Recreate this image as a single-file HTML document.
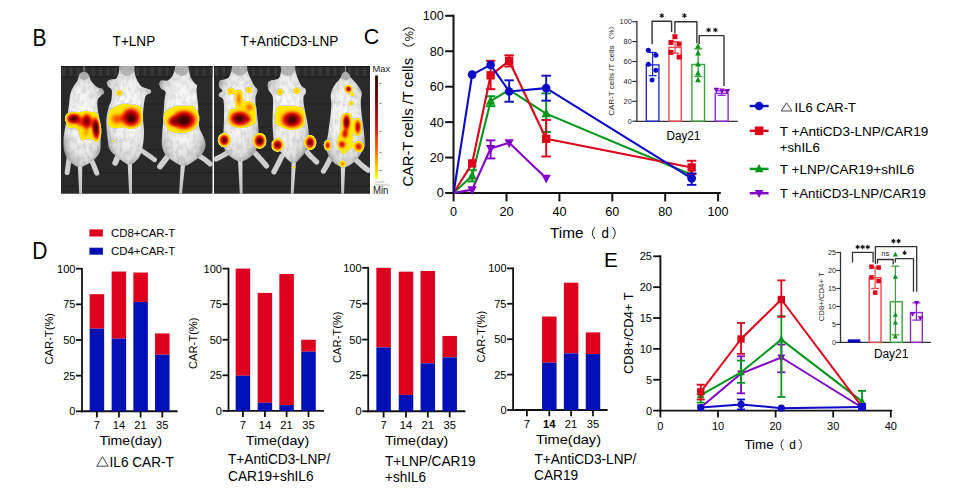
<!DOCTYPE html>
<html><head><meta charset="utf-8"><style>
html,body{margin:0;padding:0;background:#fff;}
svg{display:block;font-family:"Liberation Sans", sans-serif;}
</style></head><body>
<svg width="960" height="494" viewBox="0 0 960 494">
<rect width="960" height="494" fill="#fff"/>
<text x="32.50" y="45.80" font-size="23.5" textLength="14.00" lengthAdjust="spacingAndGlyphs" >B</text>
<text x="363.80" y="43.60" font-size="22.5" textLength="15.50" lengthAdjust="spacingAndGlyphs" >C</text>
<text x="32.30" y="259.00" font-size="23.5" textLength="15.20" lengthAdjust="spacingAndGlyphs" >D</text>
<text x="604.00" y="266.60" font-size="20.5" textLength="13.80" lengthAdjust="spacingAndGlyphs" >E</text>
<text x="112.60" y="45.60" font-size="14.3" textLength="42.60" lengthAdjust="spacingAndGlyphs" >T+LNP</text>
<text x="240.60" y="45.60" font-size="14.3" textLength="97.80" lengthAdjust="spacingAndGlyphs" >T+AntiCD3-LNP</text>
<line x1="453.50" y1="14.70" x2="453.50" y2="194.00" stroke="#111" stroke-width="2" />
<line x1="452.50" y1="193.00" x2="720.80" y2="193.00" stroke="#111" stroke-width="2" />
<line x1="445.20" y1="193.00" x2="453.50" y2="193.00" stroke="#111" stroke-width="2" />
<text x="443.80" y="197.40" font-size="12.6" text-anchor="end" >0</text>
<line x1="445.20" y1="157.56" x2="453.50" y2="157.56" stroke="#111" stroke-width="2" />
<text x="443.80" y="161.96" font-size="12.6" text-anchor="end" >20</text>
<line x1="445.20" y1="122.12" x2="453.50" y2="122.12" stroke="#111" stroke-width="2" />
<text x="443.80" y="126.52" font-size="12.6" text-anchor="end" >40</text>
<line x1="445.20" y1="86.68" x2="453.50" y2="86.68" stroke="#111" stroke-width="2" />
<text x="443.80" y="91.08" font-size="12.6" text-anchor="end" >60</text>
<line x1="445.20" y1="51.24" x2="453.50" y2="51.24" stroke="#111" stroke-width="2" />
<text x="443.80" y="55.64" font-size="12.6" text-anchor="end" >80</text>
<line x1="445.20" y1="15.80" x2="453.50" y2="15.80" stroke="#111" stroke-width="2" />
<text x="443.80" y="20.20" font-size="12.6" text-anchor="end" >100</text>
<line x1="453.60" y1="193.00" x2="453.60" y2="201.40" stroke="#111" stroke-width="2" />
<text x="453.60" y="215.50" font-size="12.6" text-anchor="middle" >0</text>
<line x1="506.50" y1="193.00" x2="506.50" y2="201.40" stroke="#111" stroke-width="2" />
<text x="506.50" y="215.50" font-size="12.6" text-anchor="middle" >20</text>
<line x1="559.40" y1="193.00" x2="559.40" y2="201.40" stroke="#111" stroke-width="2" />
<text x="559.40" y="215.50" font-size="12.6" text-anchor="middle" >40</text>
<line x1="612.30" y1="193.00" x2="612.30" y2="201.40" stroke="#111" stroke-width="2" />
<text x="612.30" y="215.50" font-size="12.6" text-anchor="middle" >60</text>
<line x1="665.20" y1="193.00" x2="665.20" y2="201.40" stroke="#111" stroke-width="2" />
<text x="665.20" y="215.50" font-size="12.6" text-anchor="middle" >80</text>
<line x1="718.10" y1="193.00" x2="718.10" y2="201.40" stroke="#111" stroke-width="2" />
<text x="718.10" y="215.50" font-size="12.6" text-anchor="middle" >100</text>
<text x="550.00" y="237.80" font-size="14.5" textLength="33.50" lengthAdjust="spacingAndGlyphs" >Time</text>
<text x="601.40" y="237.80" font-size="14.5" textLength="7.40" lengthAdjust="spacingAndGlyphs" >d</text>
<path d="M595.0,227.2 Q589.6,233.1 595.0,239.0 M612.6,227.2 Q618.0,233.1 612.6,239.0" fill="none" stroke="#222" stroke-width="1.0"/>
<g transform="translate(413.2,186.6) rotate(-90)">
<text x="0.00" y="0.00" font-size="15" textLength="128.60" lengthAdjust="spacingAndGlyphs" >CAR-T cells /T cells</text>
<path d="M143.2,-10.2 Q137.4,-4.4 143.2,1.4 M156.0,-10.2 Q161.8,-4.4 156.0,1.4" fill="none" stroke="#222" stroke-width="1.05"/>
<text x="150.40" y="0.20" font-size="11.5" text-anchor="middle" >%</text>
</g>
<polyline points="453.60,193.00 472.12,189.63 490.63,148.52 509.15,142.85 546.18,178.29" fill="none" stroke="#8200c8" stroke-width="2.1" stroke-linejoin="round" />
<line x1="490.63" y1="140.37" x2="490.63" y2="158.45" stroke="#8200c8" stroke-width="1.9" />
<line x1="485.88" y1="140.37" x2="495.38" y2="140.37" stroke="#8200c8" stroke-width="1.9" />
<line x1="485.88" y1="158.45" x2="495.38" y2="158.45" stroke="#8200c8" stroke-width="1.9" />
<polygon points="472.12,194.88 476.72,186.14 467.51,186.14" fill="#8200c8" />
<polygon points="490.63,153.77 495.23,145.03 486.03,145.03" fill="#8200c8" />
<polygon points="509.15,148.10 513.75,139.36 504.55,139.36" fill="#8200c8" />
<polygon points="546.18,183.54 550.78,174.80 541.58,174.80" fill="#8200c8" />
<polyline points="453.60,193.00 472.12,175.81 490.63,101.21 509.15,89.87 546.18,113.61 691.65,174.75" fill="none" stroke="#00961a" stroke-width="2.1" stroke-linejoin="round" />
<line x1="472.12" y1="170.14" x2="472.12" y2="181.48" stroke="#00961a" stroke-width="1.9" />
<line x1="467.37" y1="170.14" x2="476.87" y2="170.14" stroke="#00961a" stroke-width="1.9" />
<line x1="467.37" y1="181.48" x2="476.87" y2="181.48" stroke="#00961a" stroke-width="1.9" />
<line x1="490.63" y1="96.25" x2="490.63" y2="106.17" stroke="#00961a" stroke-width="1.9" />
<line x1="485.88" y1="96.25" x2="495.38" y2="96.25" stroke="#00961a" stroke-width="1.9" />
<line x1="485.88" y1="106.17" x2="495.38" y2="106.17" stroke="#00961a" stroke-width="1.9" />
<line x1="546.18" y1="93.41" x2="546.18" y2="132.04" stroke="#00961a" stroke-width="1.9" />
<line x1="541.43" y1="93.41" x2="550.93" y2="93.41" stroke="#00961a" stroke-width="1.9" />
<line x1="541.43" y1="132.04" x2="550.93" y2="132.04" stroke="#00961a" stroke-width="1.9" />
<polygon points="472.12,170.45 476.81,179.38 467.42,179.38" fill="#00961a" />
<polygon points="490.63,95.85 495.33,104.78 485.93,104.78" fill="#00961a" />
<polygon points="509.15,84.51 513.85,93.44 504.45,93.44" fill="#00961a" />
<polygon points="546.18,108.26 550.88,117.19 541.48,117.19" fill="#00961a" />
<polygon points="691.65,169.39 696.35,178.32 686.95,178.32" fill="#00961a" />
<polyline points="453.60,193.00 472.12,163.41 490.63,75.34 509.15,60.81 546.18,138.78 691.65,167.48" fill="none" stroke="#de0019" stroke-width="2.1" stroke-linejoin="round" />
<line x1="490.63" y1="60.81" x2="490.63" y2="89.16" stroke="#de0019" stroke-width="1.9" />
<line x1="485.88" y1="60.81" x2="495.38" y2="60.81" stroke="#de0019" stroke-width="1.9" />
<line x1="485.88" y1="89.16" x2="495.38" y2="89.16" stroke="#de0019" stroke-width="1.9" />
<line x1="509.15" y1="55.32" x2="509.15" y2="66.48" stroke="#de0019" stroke-width="1.9" />
<line x1="504.40" y1="55.32" x2="513.89" y2="55.32" stroke="#de0019" stroke-width="1.9" />
<line x1="504.40" y1="66.48" x2="513.89" y2="66.48" stroke="#de0019" stroke-width="1.9" />
<line x1="546.18" y1="119.99" x2="546.18" y2="156.50" stroke="#de0019" stroke-width="1.9" />
<line x1="541.43" y1="119.99" x2="550.93" y2="119.99" stroke="#de0019" stroke-width="1.9" />
<line x1="541.43" y1="156.50" x2="550.93" y2="156.50" stroke="#de0019" stroke-width="1.9" />
<line x1="691.65" y1="160.75" x2="691.65" y2="174.22" stroke="#de0019" stroke-width="1.9" />
<line x1="686.90" y1="160.75" x2="696.40" y2="160.75" stroke="#de0019" stroke-width="1.9" />
<line x1="686.90" y1="174.22" x2="696.40" y2="174.22" stroke="#de0019" stroke-width="1.9" />
<rect x="467.97" y="159.26" width="8.30" height="8.30" fill="#de0019" />
<rect x="486.48" y="71.19" width="8.30" height="8.30" fill="#de0019" />
<rect x="505.00" y="56.66" width="8.30" height="8.30" fill="#de0019" />
<rect x="542.03" y="134.63" width="8.30" height="8.30" fill="#de0019" />
<rect x="687.50" y="163.33" width="8.30" height="8.30" fill="#de0019" />
<polyline points="453.60,193.00 472.12,74.63 490.63,64.88 509.15,91.46 546.18,88.10 691.65,178.47" fill="none" stroke="#0a0ac8" stroke-width="2.1" stroke-linejoin="round" />
<line x1="509.15" y1="80.30" x2="509.15" y2="101.74" stroke="#0a0ac8" stroke-width="1.9" />
<line x1="504.40" y1="80.30" x2="513.89" y2="80.30" stroke="#0a0ac8" stroke-width="1.9" />
<line x1="504.40" y1="101.74" x2="513.89" y2="101.74" stroke="#0a0ac8" stroke-width="1.9" />
<line x1="546.18" y1="75.69" x2="546.18" y2="100.68" stroke="#0a0ac8" stroke-width="1.9" />
<line x1="541.43" y1="75.69" x2="550.93" y2="75.69" stroke="#0a0ac8" stroke-width="1.9" />
<line x1="541.43" y1="100.68" x2="550.93" y2="100.68" stroke="#0a0ac8" stroke-width="1.9" />
<line x1="691.65" y1="173.51" x2="691.65" y2="184.85" stroke="#0a0ac8" stroke-width="1.9" />
<line x1="686.90" y1="173.51" x2="696.40" y2="173.51" stroke="#0a0ac8" stroke-width="1.9" />
<line x1="686.90" y1="184.85" x2="696.40" y2="184.85" stroke="#0a0ac8" stroke-width="1.9" />
<circle cx="472.12" cy="74.63" r="4.30" fill="#0a0ac8"/>
<circle cx="490.63" cy="64.88" r="4.30" fill="#0a0ac8"/>
<circle cx="509.15" cy="91.46" r="4.30" fill="#0a0ac8"/>
<circle cx="546.18" cy="88.10" r="4.30" fill="#0a0ac8"/>
<circle cx="691.65" cy="178.47" r="4.30" fill="#0a0ac8"/>
<line x1="636.90" y1="21.00" x2="636.90" y2="121.90" stroke="#333" stroke-width="1.3" />
<line x1="636.30" y1="121.30" x2="737.80" y2="121.30" stroke="#333" stroke-width="1.3" />
<line x1="632.30" y1="121.20" x2="636.90" y2="121.20" stroke="#333" stroke-width="1.2" />
<text x="631.80" y="123.70" font-size="7.0" text-anchor="end" textLength="4.00" lengthAdjust="spacingAndGlyphs" fill="#222" >0</text>
<line x1="632.30" y1="101.30" x2="636.90" y2="101.30" stroke="#333" stroke-width="1.2" />
<text x="631.80" y="103.80" font-size="7.0" text-anchor="end" textLength="8.20" lengthAdjust="spacingAndGlyphs" fill="#222" >20</text>
<line x1="632.30" y1="81.40" x2="636.90" y2="81.40" stroke="#333" stroke-width="1.2" />
<text x="631.80" y="83.90" font-size="7.0" text-anchor="end" textLength="8.20" lengthAdjust="spacingAndGlyphs" fill="#222" >40</text>
<line x1="632.30" y1="61.50" x2="636.90" y2="61.50" stroke="#333" stroke-width="1.2" />
<text x="631.80" y="64.00" font-size="7.0" text-anchor="end" textLength="8.20" lengthAdjust="spacingAndGlyphs" fill="#222" >60</text>
<line x1="632.30" y1="41.60" x2="636.90" y2="41.60" stroke="#333" stroke-width="1.2" />
<text x="631.80" y="44.10" font-size="7.0" text-anchor="end" textLength="8.20" lengthAdjust="spacingAndGlyphs" fill="#222" >80</text>
<line x1="632.30" y1="21.70" x2="636.90" y2="21.70" stroke="#333" stroke-width="1.2" />
<text x="631.80" y="24.20" font-size="7.0" text-anchor="end" textLength="12.20" lengthAdjust="spacingAndGlyphs" fill="#222" >100</text>
<rect x="646.30" y="64.88" width="12.60" height="56.32" fill="none" stroke="#2233cc" stroke-width="1.4"/>
<line x1="652.60" y1="52.45" x2="652.60" y2="75.63" stroke="#2233cc" stroke-width="1.3" />
<line x1="648.60" y1="52.45" x2="656.60" y2="52.45" stroke="#2233cc" stroke-width="1.3" />
<line x1="648.60" y1="75.63" x2="656.60" y2="75.63" stroke="#2233cc" stroke-width="1.3" />
<rect x="668.90" y="47.37" width="12.30" height="73.83" fill="none" stroke="#f0484a" stroke-width="1.4"/>
<line x1="675.05" y1="41.60" x2="675.05" y2="53.14" stroke="#f0484a" stroke-width="1.3" />
<line x1="671.05" y1="41.60" x2="679.05" y2="41.60" stroke="#f0484a" stroke-width="1.3" />
<line x1="671.05" y1="53.14" x2="679.05" y2="53.14" stroke="#f0484a" stroke-width="1.3" />
<rect x="691.90" y="64.49" width="12.60" height="56.71" fill="none" stroke="#3ca03c" stroke-width="1.4"/>
<line x1="698.20" y1="48.86" x2="698.20" y2="76.43" stroke="#3ca03c" stroke-width="1.3" />
<line x1="694.20" y1="48.86" x2="702.20" y2="48.86" stroke="#3ca03c" stroke-width="1.3" />
<line x1="694.20" y1="76.43" x2="702.20" y2="76.43" stroke="#3ca03c" stroke-width="1.3" />
<rect x="715.30" y="93.34" width="12.80" height="27.86" fill="none" stroke="#8c2ad0" stroke-width="1.4"/>
<line x1="721.70" y1="90.85" x2="721.70" y2="95.33" stroke="#8c2ad0" stroke-width="1.3" />
<line x1="717.70" y1="90.85" x2="725.70" y2="90.85" stroke="#8c2ad0" stroke-width="1.3" />
<line x1="717.70" y1="95.33" x2="725.70" y2="95.33" stroke="#8c2ad0" stroke-width="1.3" />
<circle cx="648.30" cy="50.20" r="2.50" fill="#0a0ac8"/>
<circle cx="655.90" cy="55.30" r="2.50" fill="#0a0ac8"/>
<circle cx="648.30" cy="64.30" r="2.50" fill="#0a0ac8"/>
<circle cx="655.90" cy="70.20" r="2.50" fill="#0a0ac8"/>
<circle cx="652.10" cy="80.00" r="2.50" fill="#0a0ac8"/>
<rect x="672.40" y="34.20" width="5.00" height="5.00" fill="#de0019" />
<rect x="668.50" y="39.90" width="5.00" height="5.00" fill="#de0019" />
<rect x="676.60" y="41.50" width="5.00" height="5.00" fill="#de0019" />
<rect x="668.50" y="49.90" width="5.00" height="5.00" fill="#de0019" />
<rect x="676.60" y="54.50" width="5.00" height="5.00" fill="#de0019" />
<polygon points="698.00,43.09 700.90,48.60 695.10,48.60" fill="#00961a" />
<polygon points="698.00,50.09 700.90,55.60 695.10,55.60" fill="#00961a" />
<polygon points="698.00,60.99 700.90,66.50 695.10,66.50" fill="#00961a" />
<polygon points="698.00,69.89 700.90,75.40 695.10,75.40" fill="#00961a" />
<polygon points="698.00,76.69 700.90,82.20 695.10,82.20" fill="#00961a" />
<polygon points="716.40,93.19 719.20,87.87 713.60,87.87" fill="#8200c8" />
<polygon points="721.90,93.79 724.70,88.47 719.10,88.47" fill="#8200c8" />
<polygon points="727.20,94.39 730.00,89.07 724.40,89.07" fill="#8200c8" />
<polyline points="652.10,44.30 652.10,21.30 671.60,21.30 671.60,31.90" fill="none" stroke="#333" stroke-width="1.4" stroke-linejoin="round" stroke-linejoin="miter"/>
<polyline points="674.90,33.50 674.90,21.70 696.90,21.70 696.90,43.20" fill="none" stroke="#333" stroke-width="1.4" stroke-linejoin="round" stroke-linejoin="miter"/>
<polyline points="699.20,44.00 699.20,35.60 724.00,35.60 724.00,86.10" fill="none" stroke="#333" stroke-width="1.4" stroke-linejoin="round" stroke-linejoin="miter"/>
<line x1="661.80" y1="13.30" x2="661.80" y2="17.90" stroke="#1a1a1a" stroke-width="1.15" />
<line x1="659.81" y1="14.45" x2="663.79" y2="16.75" stroke="#1a1a1a" stroke-width="1.15" />
<line x1="663.79" y1="14.45" x2="659.81" y2="16.75" stroke="#1a1a1a" stroke-width="1.15" />
<line x1="684.40" y1="13.30" x2="684.40" y2="17.90" stroke="#1a1a1a" stroke-width="1.15" />
<line x1="682.41" y1="14.45" x2="686.39" y2="16.75" stroke="#1a1a1a" stroke-width="1.15" />
<line x1="686.39" y1="14.45" x2="682.41" y2="16.75" stroke="#1a1a1a" stroke-width="1.15" />
<line x1="708.60" y1="27.70" x2="708.60" y2="32.30" stroke="#1a1a1a" stroke-width="1.15" />
<line x1="706.61" y1="28.85" x2="710.59" y2="31.15" stroke="#1a1a1a" stroke-width="1.15" />
<line x1="710.59" y1="28.85" x2="706.61" y2="31.15" stroke="#1a1a1a" stroke-width="1.15" />
<line x1="715.40" y1="27.70" x2="715.40" y2="32.30" stroke="#1a1a1a" stroke-width="1.15" />
<line x1="713.41" y1="28.85" x2="717.39" y2="31.15" stroke="#1a1a1a" stroke-width="1.15" />
<line x1="717.39" y1="28.85" x2="713.41" y2="31.15" stroke="#1a1a1a" stroke-width="1.15" />
<text x="666.40" y="140.00" font-size="12" textLength="34.00" lengthAdjust="spacingAndGlyphs" >Day21</text>
<g transform="translate(614.1,115.8) rotate(-90)">
<text x="0.00" y="0.00" font-size="7.8" textLength="70.30" lengthAdjust="spacingAndGlyphs" fill="#222" >CAR-T cells /T cells</text>
<path d="M78.6,-5.4 Q75.6,-2.6 78.6,0.3 M87.2,-5.4 Q90.2,-2.6 87.2,0.3" fill="none" stroke="#333" stroke-width="0.7"/>
<text x="83.00" y="0.00" font-size="6.8" text-anchor="middle" fill="#222" >%</text>
</g>
<line x1="749.70" y1="106.00" x2="768.60" y2="106.00" stroke="#0a0ac8" stroke-width="2.4" />
<circle cx="759.10" cy="106.00" r="4.30" fill="#0a0ac8"/>
<line x1="749.70" y1="130.80" x2="768.60" y2="130.80" stroke="#de0019" stroke-width="2.4" />
<rect x="754.80" y="126.50" width="8.60" height="8.60" fill="#de0019" />
<line x1="749.70" y1="168.90" x2="768.60" y2="168.90" stroke="#00961a" stroke-width="2.4" />
<polygon points="759.10,164.00 763.40,172.17 754.80,172.17" fill="#00961a" />
<line x1="749.70" y1="193.20" x2="768.60" y2="193.20" stroke="#8200c8" stroke-width="2.4" />
<polygon points="759.10,198.10 763.40,189.93 754.80,189.93" fill="#8200c8" />
<polygon points="786.6,102.8 792.0,111.0 781.2,111.0" fill="none" stroke="#333" stroke-width="0.9"/>
<text x="794.60" y="111.50" font-size="13.2" textLength="61.40" lengthAdjust="spacingAndGlyphs" >IL6 CAR-T</text>
<text x="779.80" y="136.20" font-size="13.2" textLength="148.40" lengthAdjust="spacingAndGlyphs" >T +AntiCD3-LNP/CAR19</text>
<text x="779.80" y="152.00" font-size="13.2" textLength="40.00" lengthAdjust="spacingAndGlyphs" >+shIL6</text>
<text x="779.80" y="173.90" font-size="13.2" textLength="134.60" lengthAdjust="spacingAndGlyphs" >T +LNP/CAR19+shIL6</text>
<text x="779.80" y="198.10" font-size="13.2" textLength="146.00" lengthAdjust="spacingAndGlyphs" >T +AntiCD3-LNP/CAR19</text>
<rect x="89.40" y="229.40" width="13.50" height="7.10" fill="#dc001e" />
<rect x="89.40" y="247.70" width="13.50" height="7.00" fill="#0010b4" />
<text x="111.00" y="236.90" font-size="11.6" textLength="64.20" lengthAdjust="spacingAndGlyphs" >CD8+CAR-T</text>
<text x="111.00" y="254.70" font-size="11.6" textLength="64.20" lengthAdjust="spacingAndGlyphs" >CD4+CAR-T</text>
<line x1="82.00" y1="267.90" x2="82.00" y2="412.20" stroke="#111" stroke-width="1.8" />
<line x1="81.10" y1="411.30" x2="177.60" y2="411.30" stroke="#111" stroke-width="1.9" />
<line x1="76.00" y1="411.30" x2="82.00" y2="411.30" stroke="#111" stroke-width="1.8" />
<text x="75.40" y="415.30" font-size="11" text-anchor="end" >0</text>
<line x1="76.00" y1="375.65" x2="82.00" y2="375.65" stroke="#111" stroke-width="1.8" />
<text x="75.40" y="379.65" font-size="11" text-anchor="end" >25</text>
<line x1="76.00" y1="340.00" x2="82.00" y2="340.00" stroke="#111" stroke-width="1.8" />
<text x="75.40" y="344.00" font-size="11" text-anchor="end" >50</text>
<line x1="76.00" y1="304.35" x2="82.00" y2="304.35" stroke="#111" stroke-width="1.8" />
<text x="75.40" y="308.35" font-size="11" text-anchor="end" >75</text>
<line x1="76.00" y1="268.70" x2="82.00" y2="268.70" stroke="#111" stroke-width="1.8" />
<text x="75.40" y="272.70" font-size="11" text-anchor="end" >100</text>
<rect x="89.65" y="294.23" width="14.50" height="34.37" fill="#dc001e" />
<rect x="89.65" y="328.59" width="14.50" height="82.71" fill="#0010b4" />
<rect x="111.65" y="271.55" width="14.50" height="67.02" fill="#dc001e" />
<rect x="111.65" y="338.57" width="14.50" height="72.73" fill="#0010b4" />
<rect x="133.35" y="272.55" width="14.50" height="29.38" fill="#dc001e" />
<rect x="133.35" y="301.93" width="14.50" height="109.37" fill="#0010b4" />
<rect x="155.05" y="333.44" width="14.50" height="21.25" fill="#dc001e" />
<rect x="155.05" y="354.69" width="14.50" height="56.61" fill="#0010b4" />
<line x1="96.90" y1="411.30" x2="96.90" y2="417.50" stroke="#111" stroke-width="1.8" />
<text x="96.90" y="429.00" font-size="11.2" text-anchor="middle" >7</text>
<line x1="118.90" y1="411.30" x2="118.90" y2="417.50" stroke="#111" stroke-width="1.8" />
<text x="118.90" y="429.00" font-size="11.2" text-anchor="middle" >14</text>
<line x1="140.60" y1="411.30" x2="140.60" y2="417.50" stroke="#111" stroke-width="1.8" />
<text x="140.60" y="429.00" font-size="11.2" text-anchor="middle" >21</text>
<line x1="162.30" y1="411.30" x2="162.30" y2="417.50" stroke="#111" stroke-width="1.8" />
<text x="162.30" y="429.00" font-size="11.2" text-anchor="middle" >35</text>
<text transform="translate(53.20,338.70) rotate(-90)" x="0" y="0" font-size="11.3" text-anchor="middle" textLength="51.60" lengthAdjust="spacingAndGlyphs">CAR-T(%)</text>
<line x1="228.50" y1="267.80" x2="228.50" y2="411.80" stroke="#111" stroke-width="1.8" />
<line x1="227.60" y1="410.90" x2="324.00" y2="410.90" stroke="#111" stroke-width="1.9" />
<line x1="222.50" y1="410.90" x2="228.50" y2="410.90" stroke="#111" stroke-width="1.8" />
<text x="221.90" y="414.90" font-size="11" text-anchor="end" >0</text>
<line x1="222.50" y1="375.32" x2="228.50" y2="375.32" stroke="#111" stroke-width="1.8" />
<text x="221.90" y="379.32" font-size="11" text-anchor="end" >25</text>
<line x1="222.50" y1="339.75" x2="228.50" y2="339.75" stroke="#111" stroke-width="1.8" />
<text x="221.90" y="343.75" font-size="11" text-anchor="end" >50</text>
<line x1="222.50" y1="304.18" x2="228.50" y2="304.18" stroke="#111" stroke-width="1.8" />
<text x="221.90" y="308.18" font-size="11" text-anchor="end" >75</text>
<line x1="222.50" y1="268.60" x2="228.50" y2="268.60" stroke="#111" stroke-width="1.8" />
<text x="221.90" y="272.60" font-size="11" text-anchor="end" >100</text>
<rect x="235.65" y="268.60" width="14.50" height="107.15" fill="#dc001e" />
<rect x="235.65" y="375.75" width="14.50" height="35.15" fill="#0010b4" />
<rect x="257.65" y="292.93" width="14.50" height="109.86" fill="#dc001e" />
<rect x="257.65" y="402.79" width="14.50" height="8.11" fill="#0010b4" />
<rect x="279.35" y="274.01" width="14.50" height="131.06" fill="#dc001e" />
<rect x="279.35" y="405.07" width="14.50" height="5.83" fill="#0010b4" />
<rect x="301.25" y="339.75" width="14.50" height="11.95" fill="#dc001e" />
<rect x="301.25" y="351.70" width="14.50" height="59.20" fill="#0010b4" />
<line x1="242.90" y1="410.90" x2="242.90" y2="417.10" stroke="#111" stroke-width="1.8" />
<text x="242.90" y="428.60" font-size="11.2" text-anchor="middle" >7</text>
<line x1="264.90" y1="410.90" x2="264.90" y2="417.10" stroke="#111" stroke-width="1.8" />
<text x="264.90" y="428.60" font-size="11.2" text-anchor="middle" >14</text>
<line x1="286.60" y1="410.90" x2="286.60" y2="417.10" stroke="#111" stroke-width="1.8" />
<text x="286.60" y="428.60" font-size="11.2" text-anchor="middle" >21</text>
<line x1="308.50" y1="410.90" x2="308.50" y2="417.10" stroke="#111" stroke-width="1.8" />
<text x="308.50" y="428.60" font-size="11.2" text-anchor="middle" >35</text>
<text transform="translate(197.00,343.30) rotate(-90)" x="0" y="0" font-size="11.3" text-anchor="middle" textLength="51.60" lengthAdjust="spacingAndGlyphs">CAR-T(%)</text>
<line x1="368.20" y1="267.00" x2="368.20" y2="412.20" stroke="#111" stroke-width="1.8" />
<line x1="367.30" y1="411.30" x2="465.40" y2="411.30" stroke="#111" stroke-width="1.9" />
<line x1="362.20" y1="411.30" x2="368.20" y2="411.30" stroke="#111" stroke-width="1.8" />
<text x="361.60" y="415.30" font-size="11" text-anchor="end" >0</text>
<line x1="362.20" y1="375.43" x2="368.20" y2="375.43" stroke="#111" stroke-width="1.8" />
<text x="361.60" y="379.43" font-size="11" text-anchor="end" >25</text>
<line x1="362.20" y1="339.55" x2="368.20" y2="339.55" stroke="#111" stroke-width="1.8" />
<text x="361.60" y="343.55" font-size="11" text-anchor="end" >50</text>
<line x1="362.20" y1="303.68" x2="368.20" y2="303.68" stroke="#111" stroke-width="1.8" />
<text x="361.60" y="307.68" font-size="11" text-anchor="end" >75</text>
<line x1="362.20" y1="267.80" x2="368.20" y2="267.80" stroke="#111" stroke-width="1.8" />
<text x="361.60" y="271.80" font-size="11" text-anchor="end" >100</text>
<rect x="376.35" y="267.80" width="14.50" height="79.64" fill="#dc001e" />
<rect x="376.35" y="347.44" width="14.50" height="63.86" fill="#0010b4" />
<rect x="398.75" y="271.67" width="14.50" height="123.27" fill="#dc001e" />
<rect x="398.75" y="394.94" width="14.50" height="16.36" fill="#0010b4" />
<rect x="420.55" y="270.96" width="14.50" height="92.27" fill="#dc001e" />
<rect x="420.55" y="363.23" width="14.50" height="48.07" fill="#0010b4" />
<rect x="442.45" y="335.96" width="14.50" height="21.38" fill="#dc001e" />
<rect x="442.45" y="357.34" width="14.50" height="53.96" fill="#0010b4" />
<line x1="383.60" y1="411.30" x2="383.60" y2="417.50" stroke="#111" stroke-width="1.8" />
<text x="383.60" y="428.80" font-size="11.2" text-anchor="middle" >7</text>
<line x1="406.00" y1="411.30" x2="406.00" y2="417.50" stroke="#111" stroke-width="1.8" />
<text x="406.00" y="428.80" font-size="11.2" text-anchor="middle" >14</text>
<line x1="427.80" y1="411.30" x2="427.80" y2="417.50" stroke="#111" stroke-width="1.8" />
<text x="427.80" y="428.80" font-size="11.2" text-anchor="middle" >21</text>
<line x1="449.70" y1="411.30" x2="449.70" y2="417.50" stroke="#111" stroke-width="1.8" />
<text x="449.70" y="428.80" font-size="11.2" text-anchor="middle" >35</text>
<text transform="translate(340.60,337.20) rotate(-90)" x="0" y="0" font-size="11.3" text-anchor="middle" textLength="51.60" lengthAdjust="spacingAndGlyphs">CAR-T(%)</text>
<line x1="513.10" y1="267.60" x2="513.10" y2="410.90" stroke="#111" stroke-width="1.8" />
<line x1="512.20" y1="410.00" x2="607.60" y2="410.00" stroke="#111" stroke-width="1.9" />
<line x1="507.10" y1="410.00" x2="513.10" y2="410.00" stroke="#111" stroke-width="1.8" />
<text x="506.50" y="414.00" font-size="11" text-anchor="end" >0</text>
<line x1="507.10" y1="374.60" x2="513.10" y2="374.60" stroke="#111" stroke-width="1.8" />
<text x="506.50" y="378.60" font-size="11" text-anchor="end" >25</text>
<line x1="507.10" y1="339.20" x2="513.10" y2="339.20" stroke="#111" stroke-width="1.8" />
<text x="506.50" y="343.20" font-size="11" text-anchor="end" >50</text>
<line x1="507.10" y1="303.80" x2="513.10" y2="303.80" stroke="#111" stroke-width="1.8" />
<text x="506.50" y="307.80" font-size="11" text-anchor="end" >75</text>
<line x1="507.10" y1="268.40" x2="513.10" y2="268.40" stroke="#111" stroke-width="1.8" />
<text x="506.50" y="272.40" font-size="11" text-anchor="end" >100</text>
<rect x="542.05" y="316.54" width="14.50" height="46.16" fill="#dc001e" />
<rect x="542.05" y="362.71" width="14.50" height="47.29" fill="#0010b4" />
<rect x="563.85" y="282.70" width="14.50" height="70.66" fill="#dc001e" />
<rect x="563.85" y="353.36" width="14.50" height="56.64" fill="#0010b4" />
<rect x="585.75" y="332.40" width="14.50" height="21.66" fill="#dc001e" />
<rect x="585.75" y="354.07" width="14.50" height="55.93" fill="#0010b4" />
<line x1="526.90" y1="410.00" x2="526.90" y2="416.20" stroke="#111" stroke-width="1.8" />
<text x="526.90" y="427.60" font-size="11.2" text-anchor="middle" >7</text>
<line x1="549.30" y1="410.00" x2="549.30" y2="416.20" stroke="#111" stroke-width="1.8" />
<text x="549.30" y="427.60" font-size="11.2" text-anchor="middle" font-weight="bold" >14</text>
<line x1="571.10" y1="410.00" x2="571.10" y2="416.20" stroke="#111" stroke-width="1.8" />
<text x="571.10" y="427.60" font-size="11.2" text-anchor="middle" >21</text>
<line x1="593.00" y1="410.00" x2="593.00" y2="416.20" stroke="#111" stroke-width="1.8" />
<text x="593.00" y="427.60" font-size="11.2" text-anchor="middle" >35</text>
<text transform="translate(484.70,336.60) rotate(-90)" x="0" y="0" font-size="11.3" text-anchor="middle" textLength="51.60" lengthAdjust="spacingAndGlyphs">CAR-T(%)</text>
<text x="99.40" y="445.40" font-size="13.5" textLength="62.80" lengthAdjust="spacingAndGlyphs" >Time(day)</text>
<polygon points="102.5,456.6 108.2,466.2 96.8,466.2" fill="none" stroke="#333" stroke-width="0.9"/>
<text x="109.60" y="466.60" font-size="14" textLength="64.20" lengthAdjust="spacingAndGlyphs" >IL6 CAR-T</text>
<text x="245.80" y="444.70" font-size="13.5" textLength="63.40" lengthAdjust="spacingAndGlyphs" >Time(day)</text>
<text x="228.00" y="463.90" font-size="13.8" textLength="102.20" lengthAdjust="spacingAndGlyphs" >T+AntiCD3-LNP/</text>
<text x="228.00" y="480.80" font-size="13.8" textLength="85.60" lengthAdjust="spacingAndGlyphs" >CAR19+shIL6</text>
<text x="385.00" y="444.70" font-size="13.5" textLength="63.20" lengthAdjust="spacingAndGlyphs" >Time(day)</text>
<text x="385.00" y="466.20" font-size="13.8" textLength="90.60" lengthAdjust="spacingAndGlyphs" >T+LNP/CAR19</text>
<text x="385.00" y="482.30" font-size="13.8" textLength="41.00" lengthAdjust="spacingAndGlyphs" >+shIL6</text>
<text x="536.00" y="444.20" font-size="13.5" textLength="65.00" lengthAdjust="spacingAndGlyphs" >Time(day)</text>
<text x="534.40" y="463.90" font-size="13.8" textLength="102.00" lengthAdjust="spacingAndGlyphs" >T+AntiCD3-LNP/</text>
<text x="534.00" y="480.40" font-size="13.8" textLength="44.20" lengthAdjust="spacingAndGlyphs" >CAR19</text>
<line x1="660.40" y1="255.30" x2="660.40" y2="411.50" stroke="#111" stroke-width="1.9" />
<line x1="659.50" y1="410.60" x2="892.20" y2="410.60" stroke="#111" stroke-width="1.9" />
<line x1="653.20" y1="410.60" x2="660.40" y2="410.60" stroke="#111" stroke-width="1.8" />
<text x="652.00" y="414.60" font-size="11" text-anchor="end" >0</text>
<line x1="653.20" y1="379.74" x2="660.40" y2="379.74" stroke="#111" stroke-width="1.8" />
<text x="652.00" y="383.74" font-size="11" text-anchor="end" >5</text>
<line x1="653.20" y1="348.88" x2="660.40" y2="348.88" stroke="#111" stroke-width="1.8" />
<text x="652.00" y="352.88" font-size="11" text-anchor="end" >10</text>
<line x1="653.20" y1="318.02" x2="660.40" y2="318.02" stroke="#111" stroke-width="1.8" />
<text x="652.00" y="322.02" font-size="11" text-anchor="end" >15</text>
<line x1="653.20" y1="287.16" x2="660.40" y2="287.16" stroke="#111" stroke-width="1.8" />
<text x="652.00" y="291.16" font-size="11" text-anchor="end" >20</text>
<line x1="653.20" y1="256.30" x2="660.40" y2="256.30" stroke="#111" stroke-width="1.8" />
<text x="652.00" y="260.30" font-size="11" text-anchor="end" >25</text>
<line x1="660.40" y1="410.60" x2="660.40" y2="417.50" stroke="#111" stroke-width="1.8" />
<text x="660.40" y="429.60" font-size="11" text-anchor="middle" >0</text>
<line x1="718.00" y1="410.60" x2="718.00" y2="417.50" stroke="#111" stroke-width="1.8" />
<text x="718.00" y="429.60" font-size="11" text-anchor="middle" >10</text>
<line x1="775.60" y1="410.60" x2="775.60" y2="417.50" stroke="#111" stroke-width="1.8" />
<text x="775.60" y="429.60" font-size="11" text-anchor="middle" >20</text>
<line x1="833.20" y1="410.60" x2="833.20" y2="417.50" stroke="#111" stroke-width="1.8" />
<text x="833.20" y="429.60" font-size="11" text-anchor="middle" >30</text>
<line x1="890.80" y1="410.60" x2="890.80" y2="417.50" stroke="#111" stroke-width="1.8" />
<text x="890.80" y="429.60" font-size="11" text-anchor="middle" >40</text>
<text x="744.40" y="448.80" font-size="12.3" textLength="29.20" lengthAdjust="spacingAndGlyphs" >Time</text>
<text x="789.20" y="448.80" font-size="12.3" textLength="6.60" lengthAdjust="spacingAndGlyphs" >d</text>
<path d="M783.4,439.4 Q778.6,444.8 783.4,450.2 M799.1,439.4 Q803.9,444.8 799.1,450.2" fill="none" stroke="#222" stroke-width="0.95"/>
<text transform="translate(632.70,333.20) rotate(-90)" x="0" y="0" font-size="12.9" text-anchor="middle" textLength="81.60" lengthAdjust="spacingAndGlyphs">CD8+/CD4+ T</text>
<polyline points="700.72,407.51 741.04,373.57 781.36,357.52 862.00,407.51" fill="none" stroke="#8200c8" stroke-width="2.0" stroke-linejoin="round" />
<line x1="741.04" y1="356.29" x2="741.04" y2="393.32" stroke="#8200c8" stroke-width="1.8" />
<line x1="737.04" y1="356.29" x2="745.04" y2="356.29" stroke="#8200c8" stroke-width="1.8" />
<line x1="737.04" y1="393.32" x2="745.04" y2="393.32" stroke="#8200c8" stroke-width="1.8" />
<line x1="781.36" y1="344.56" x2="781.36" y2="372.33" stroke="#8200c8" stroke-width="1.8" />
<line x1="777.36" y1="344.56" x2="785.36" y2="344.56" stroke="#8200c8" stroke-width="1.8" />
<line x1="777.36" y1="372.33" x2="785.36" y2="372.33" stroke="#8200c8" stroke-width="1.8" />
<polygon points="700.72,411.96 704.62,404.55 696.82,404.55" fill="#8200c8" />
<polygon points="741.04,378.01 744.94,370.60 737.14,370.60" fill="#8200c8" />
<polygon points="781.36,361.97 785.26,354.56 777.46,354.56" fill="#8200c8" />
<polygon points="862.00,411.96 865.90,404.55 858.10,404.55" fill="#8200c8" />
<polyline points="700.72,395.17 741.04,372.33 781.36,339.62 862.00,401.34" fill="none" stroke="#00961a" stroke-width="2.0" stroke-linejoin="round" />
<line x1="700.72" y1="393.94" x2="700.72" y2="402.58" stroke="#00961a" stroke-width="1.8" />
<line x1="696.72" y1="393.94" x2="704.72" y2="393.94" stroke="#00961a" stroke-width="1.8" />
<line x1="696.72" y1="402.58" x2="704.72" y2="402.58" stroke="#00961a" stroke-width="1.8" />
<line x1="741.04" y1="360.61" x2="741.04" y2="382.83" stroke="#00961a" stroke-width="1.8" />
<line x1="737.04" y1="360.61" x2="745.04" y2="360.61" stroke="#00961a" stroke-width="1.8" />
<line x1="737.04" y1="382.83" x2="745.04" y2="382.83" stroke="#00961a" stroke-width="1.8" />
<line x1="781.36" y1="316.17" x2="781.36" y2="397.02" stroke="#00961a" stroke-width="1.8" />
<line x1="777.36" y1="316.17" x2="785.36" y2="316.17" stroke="#00961a" stroke-width="1.8" />
<line x1="777.36" y1="397.02" x2="785.36" y2="397.02" stroke="#00961a" stroke-width="1.8" />
<line x1="862.00" y1="390.85" x2="862.00" y2="406.90" stroke="#00961a" stroke-width="1.8" />
<line x1="858.00" y1="390.85" x2="866.00" y2="390.85" stroke="#00961a" stroke-width="1.8" />
<line x1="858.00" y1="406.90" x2="866.00" y2="406.90" stroke="#00961a" stroke-width="1.8" />
<polygon points="700.72,390.72 704.62,398.13 696.82,398.13" fill="#00961a" />
<polygon points="741.04,367.89 744.94,375.30 737.14,375.30" fill="#00961a" />
<polygon points="781.36,335.18 785.26,342.59 777.46,342.59" fill="#00961a" />
<polygon points="862.00,396.90 865.90,404.31 858.10,404.31" fill="#00961a" />
<polyline points="700.72,391.78 741.04,339.00 781.36,299.50 862.00,406.90" fill="none" stroke="#de0019" stroke-width="2.0" stroke-linejoin="round" />
<line x1="700.72" y1="384.68" x2="700.72" y2="399.49" stroke="#de0019" stroke-width="1.8" />
<line x1="696.72" y1="384.68" x2="704.72" y2="384.68" stroke="#de0019" stroke-width="1.8" />
<line x1="696.72" y1="399.49" x2="704.72" y2="399.49" stroke="#de0019" stroke-width="1.8" />
<line x1="741.04" y1="322.96" x2="741.04" y2="353.82" stroke="#de0019" stroke-width="1.8" />
<line x1="737.04" y1="322.96" x2="745.04" y2="322.96" stroke="#de0019" stroke-width="1.8" />
<line x1="737.04" y1="353.82" x2="745.04" y2="353.82" stroke="#de0019" stroke-width="1.8" />
<line x1="781.36" y1="280.37" x2="781.36" y2="316.79" stroke="#de0019" stroke-width="1.8" />
<line x1="777.36" y1="280.37" x2="785.36" y2="280.37" stroke="#de0019" stroke-width="1.8" />
<line x1="777.36" y1="316.79" x2="785.36" y2="316.79" stroke="#de0019" stroke-width="1.8" />
<rect x="697.07" y="388.13" width="7.30" height="7.30" fill="#de0019" />
<rect x="737.39" y="335.35" width="7.30" height="7.30" fill="#de0019" />
<rect x="777.71" y="295.85" width="7.30" height="7.30" fill="#de0019" />
<rect x="858.35" y="403.25" width="7.30" height="7.30" fill="#de0019" />
<polyline points="700.72,407.51 741.04,404.43 781.36,408.13 862.00,406.90" fill="none" stroke="#0a0ac8" stroke-width="2.0" stroke-linejoin="round" />
<line x1="741.04" y1="399.49" x2="741.04" y2="409.37" stroke="#0a0ac8" stroke-width="1.8" />
<line x1="737.04" y1="399.49" x2="745.04" y2="399.49" stroke="#0a0ac8" stroke-width="1.8" />
<line x1="737.04" y1="409.37" x2="745.04" y2="409.37" stroke="#0a0ac8" stroke-width="1.8" />
<circle cx="700.72" cy="407.51" r="3.60" fill="#0a0ac8"/>
<circle cx="741.04" cy="404.43" r="3.60" fill="#0a0ac8"/>
<circle cx="781.36" cy="408.13" r="3.60" fill="#0a0ac8"/>
<rect x="858.10" y="403.00" width="7.80" height="7.80" fill="#0a0ac8" />
<line x1="840.50" y1="251.80" x2="840.50" y2="343.00" stroke="#333" stroke-width="1.3" />
<line x1="840.00" y1="342.40" x2="930.90" y2="342.40" stroke="#333" stroke-width="1.3" />
<line x1="836.30" y1="342.40" x2="840.50" y2="342.40" stroke="#333" stroke-width="1.2" />
<text x="836.00" y="344.90" font-size="7.0" text-anchor="end" textLength="4.00" lengthAdjust="spacingAndGlyphs" fill="#222" >0</text>
<line x1="836.30" y1="324.42" x2="840.50" y2="324.42" stroke="#333" stroke-width="1.2" />
<text x="836.00" y="326.92" font-size="7.0" text-anchor="end" textLength="4.00" lengthAdjust="spacingAndGlyphs" fill="#222" >5</text>
<line x1="836.30" y1="306.44" x2="840.50" y2="306.44" stroke="#333" stroke-width="1.2" />
<text x="836.00" y="308.94" font-size="7.0" text-anchor="end" textLength="8.00" lengthAdjust="spacingAndGlyphs" fill="#222" >10</text>
<line x1="836.30" y1="288.46" x2="840.50" y2="288.46" stroke="#333" stroke-width="1.2" />
<text x="836.00" y="290.96" font-size="7.0" text-anchor="end" textLength="8.00" lengthAdjust="spacingAndGlyphs" fill="#222" >15</text>
<line x1="836.30" y1="270.48" x2="840.50" y2="270.48" stroke="#333" stroke-width="1.2" />
<text x="836.00" y="272.98" font-size="7.0" text-anchor="end" textLength="8.00" lengthAdjust="spacingAndGlyphs" fill="#222" >20</text>
<line x1="836.30" y1="252.50" x2="840.50" y2="252.50" stroke="#333" stroke-width="1.2" />
<text x="836.00" y="255.00" font-size="7.0" text-anchor="end" textLength="8.00" lengthAdjust="spacingAndGlyphs" fill="#222" >25</text>
<rect x="847.8" y="339.34" width="12.6" height="3.06" fill="#0a0ac8"/>
<rect x="869.20" y="277.67" width="11.80" height="64.73" fill="none" stroke="#f0484a" stroke-width="1.4"/>
<rect x="890.30" y="301.77" width="11.90" height="40.63" fill="none" stroke="#3ca03c" stroke-width="1.4"/>
<rect x="910.50" y="312.55" width="11.80" height="29.85" fill="none" stroke="#8c2ad0" stroke-width="1.4"/>
<line x1="875.10" y1="267.24" x2="875.10" y2="288.46" stroke="#f0484a" stroke-width="1.3" />
<line x1="871.10" y1="267.24" x2="879.10" y2="267.24" stroke="#f0484a" stroke-width="1.3" />
<line x1="871.10" y1="288.46" x2="879.10" y2="288.46" stroke="#f0484a" stroke-width="1.3" />
<line x1="895.40" y1="266.16" x2="895.40" y2="334.85" stroke="#3ca03c" stroke-width="1.3" />
<line x1="891.40" y1="266.16" x2="899.40" y2="266.16" stroke="#3ca03c" stroke-width="1.3" />
<line x1="891.40" y1="334.85" x2="899.40" y2="334.85" stroke="#3ca03c" stroke-width="1.3" />
<line x1="916.40" y1="302.84" x2="916.40" y2="320.10" stroke="#8c2ad0" stroke-width="1.3" />
<line x1="912.40" y1="302.84" x2="920.40" y2="302.84" stroke="#8c2ad0" stroke-width="1.3" />
<line x1="912.40" y1="320.10" x2="920.40" y2="320.10" stroke="#8c2ad0" stroke-width="1.3" />
<rect x="869.25" y="264.45" width="4.50" height="4.50" fill="#de0019" />
<rect x="876.35" y="265.25" width="4.50" height="4.50" fill="#de0019" />
<rect x="869.25" y="275.15" width="4.50" height="4.50" fill="#de0019" />
<rect x="876.35" y="278.75" width="4.50" height="4.50" fill="#de0019" />
<rect x="872.95" y="290.35" width="4.50" height="4.50" fill="#de0019" />
<polygon points="895.40,251.75 897.90,256.50 892.90,256.50" fill="#00961a" />
<polygon points="895.40,274.05 897.90,278.80 892.90,278.80" fill="#00961a" />
<polygon points="895.40,312.05 897.90,316.80 892.90,316.80" fill="#00961a" />
<polygon points="895.40,319.85 897.90,324.60 892.90,324.60" fill="#00961a" />
<polygon points="895.40,333.75 897.90,338.50 892.90,338.50" fill="#00961a" />
<polygon points="916.70,305.75 919.20,301.00 914.20,301.00" fill="#8200c8" />
<polygon points="912.60,316.65 915.10,311.90 910.10,311.90" fill="#8200c8" />
<polygon points="920.40,320.95 922.90,316.20 917.90,316.20" fill="#8200c8" />
<polyline points="852.50,262.40 852.50,252.40 873.10,252.40 873.10,262.40" fill="none" stroke="#333" stroke-width="1.3" stroke-linejoin="round" stroke-linejoin="miter"/>
<polyline points="875.40,264.00 875.40,246.60 916.70,246.60 916.70,291.80" fill="none" stroke="#333" stroke-width="1.3" stroke-linejoin="round" stroke-linejoin="miter"/>
<polyline points="877.50,263.50 877.50,259.50 893.20,259.50 893.20,264.50" fill="none" stroke="#333" stroke-width="1.3" stroke-linejoin="round" stroke-linejoin="miter"/>
<polyline points="895.40,262.40 895.40,258.70 913.50,258.70 913.50,291.80" fill="none" stroke="#333" stroke-width="1.3" stroke-linejoin="round" stroke-linejoin="miter"/>
<line x1="857.60" y1="244.80" x2="857.60" y2="249.20" stroke="#1a1a1a" stroke-width="1.1" />
<line x1="855.69" y1="245.90" x2="859.51" y2="248.10" stroke="#1a1a1a" stroke-width="1.1" />
<line x1="859.51" y1="245.90" x2="855.69" y2="248.10" stroke="#1a1a1a" stroke-width="1.1" />
<line x1="862.70" y1="244.80" x2="862.70" y2="249.20" stroke="#1a1a1a" stroke-width="1.1" />
<line x1="860.79" y1="245.90" x2="864.61" y2="248.10" stroke="#1a1a1a" stroke-width="1.1" />
<line x1="864.61" y1="245.90" x2="860.79" y2="248.10" stroke="#1a1a1a" stroke-width="1.1" />
<line x1="867.80" y1="244.80" x2="867.80" y2="249.20" stroke="#1a1a1a" stroke-width="1.1" />
<line x1="865.89" y1="245.90" x2="869.71" y2="248.10" stroke="#1a1a1a" stroke-width="1.1" />
<line x1="869.71" y1="245.90" x2="865.89" y2="248.10" stroke="#1a1a1a" stroke-width="1.1" />
<line x1="893.40" y1="239.00" x2="893.40" y2="243.40" stroke="#1a1a1a" stroke-width="1.1" />
<line x1="891.49" y1="240.10" x2="895.31" y2="242.30" stroke="#1a1a1a" stroke-width="1.1" />
<line x1="895.31" y1="240.10" x2="891.49" y2="242.30" stroke="#1a1a1a" stroke-width="1.1" />
<line x1="898.60" y1="239.00" x2="898.60" y2="243.40" stroke="#1a1a1a" stroke-width="1.1" />
<line x1="896.69" y1="240.10" x2="900.51" y2="242.30" stroke="#1a1a1a" stroke-width="1.1" />
<line x1="900.51" y1="240.10" x2="896.69" y2="242.30" stroke="#1a1a1a" stroke-width="1.1" />
<line x1="904.60" y1="250.60" x2="904.60" y2="255.00" stroke="#1a1a1a" stroke-width="1.1" />
<line x1="902.69" y1="251.70" x2="906.51" y2="253.90" stroke="#1a1a1a" stroke-width="1.1" />
<line x1="906.51" y1="251.70" x2="902.69" y2="253.90" stroke="#1a1a1a" stroke-width="1.1" />
<text x="885.20" y="256.00" font-size="7.5" text-anchor="middle" fill="#222" >ns</text>
<text x="873.90" y="358.00" font-size="12" textLength="34.40" lengthAdjust="spacingAndGlyphs" >Day21</text>
<text transform="translate(823.80,296.80) rotate(-90)" x="0" y="0" font-size="7.5" text-anchor="middle" textLength="49.00" lengthAdjust="spacingAndGlyphs" fill="#222">CD8+/CD4+ T</text>
<defs>
<clipPath id="clipB"><rect x="61" y="66" width="151.5" height="127.8"/><rect x="214" y="66" width="156" height="127.8"/></clipPath>
<radialGradient id="fur" cx="50%" cy="48%" r="58%">
 <stop offset="0" stop-color="#ffffff"/><stop offset="0.5" stop-color="#f3f3f3"/><stop offset="0.8" stop-color="#dcdcdc"/><stop offset="1" stop-color="#a6a6a6"/>
</radialGradient>
<radialGradient id="hg">
 <stop offset="0" stop-color="#fff" stop-opacity="1"/><stop offset="0.35" stop-color="#fff" stop-opacity="0.82"/><stop offset="0.7" stop-color="#fff" stop-opacity="0.42"/><stop offset="1" stop-color="#fff" stop-opacity="0"/>
</radialGradient>
<linearGradient id="tailg" x1="0" y1="0" x2="0" y2="1"><stop offset="0" stop-color="#dadada"/><stop offset="1" stop-color="#c0c0c0"/></linearGradient>
<filter id="soft" x="-20%" y="-20%" width="140%" height="140%"><feGaussianBlur stdDeviation="0.6"/></filter>
<filter id="furtex" x="0" y="0" width="100%" height="100%">
 <feTurbulence type="fractalNoise" baseFrequency="0.3 0.16" numOctaves="3" seed="7" result="n"/>
 <feColorMatrix in="n" type="matrix" values="0 0 0 0 0  0 0 0 0 0  0 0 0 0 0  0 0 0 1.2 -0.45" result="a"/>
 <feComposite in="a" in2="SourceGraphic" operator="in"/>
</filter>
<filter id="heat" x="0" y="0" width="100%" height="100%" color-interpolation-filters="sRGB">
 <feGaussianBlur in="SourceAlpha" stdDeviation="0.9" result="b"/>
 <feColorMatrix in="b" type="matrix" values="0 0 0 1 0  0 0 0 1 0  0 0 0 1 0  0 0 0 1 0" result="i"/>
 <feComponentTransfer in="i" result="c">
  <feFuncR type="table" tableValues="1.000 1.000 1.000 1.000 1.000 1.000 1.000 1.000 1.000 1.000 1.000 1.000 1.000 1.000 1.000 1.000 0.992 0.982 0.973 0.963 0.941 0.917 0.892 0.868 0.827 0.783 0.739 0.695 0.643 0.589 0.535 0.481 0.431 0.382 0.333 0.284 0.252 0.223 0.194 0.166 0.137"/>
  <feFuncG type="table" tableValues="0.941 0.939 0.936 0.933 0.931 0.928 0.925 0.898 0.871 0.844 0.817 0.790 0.737 0.678 0.620 0.561 0.494 0.425 0.357 0.288 0.231 0.177 0.124 0.070 0.047 0.032 0.018 0.003 0.000 0.000 0.000 0.000 0.000 0.000 0.000 0.000 0.000 0.000 0.000 0.000 0.000"/>
  <feFuncB type="table" tableValues="0.000 0.000 0.000 0.000 0.000 0.000 0.000 0.000 0.000 0.000 0.000 0.000 0.000 0.000 0.000 0.000 0.000 0.000 0.000 0.000 0.008 0.018 0.027 0.037 0.031 0.022 0.012 0.002 0.000 0.000 0.000 0.000 0.000 0.000 0.000 0.000 0.000 0.000 0.000 0.000 0.000"/>
  <feFuncA type="discrete" tableValues="0 0 0 0 0 0 0 0 0 0 1 1 1 1 1 1 1 1 1 1 1 1 1 1 1 1 1 1 1 1 1 1 1 1 1 1 1 1 1 1 1 1 1 1 1 1 1 1 1 1 1 1 1 1 1 1 1 1 1 1 1 1 1 1 1 1 1 1 1 1 1 1 1 1 1 1 1 1 1 1 1 1 1 1 1 1 1 1 1 1 1 1 1 1 1 1 1 1 1 1"/>
 </feComponentTransfer>
 <feComponentTransfer in="i" result="ha"><feFuncA type="discrete" tableValues="0 0 0 0 0 0 0.55 0.55 0.55 0.55 0.55 0.55 0.55 0.55 0.55 0.55 0.55 0.55 0.55 0.55 0.55 0.55 0.55 0.55 0.55 0.55 0.55 0.55 0.55 0.55 0.55 0.55 0.55 0.55 0.55 0.55 0.55 0.55 0.55 0.55 0.55 0.55 0.55 0.55 0.55 0.55 0.55 0.55 0.55 0.55 0.55 0.55 0.55 0.55 0.55 0.55 0.55 0.55 0.55 0.55 0.55 0.55 0.55 0.55 0.55 0.55 0.55 0.55 0.55 0.55 0.55 0.55 0.55 0.55 0.55 0.55 0.55 0.55 0.55 0.55 0.55 0.55 0.55 0.55 0.55 0.55 0.55 0.55 0.55 0.55 0.55 0.55 0.55 0.55 0.55 0.55 0.55 0.55 0.55 0.55"/></feComponentTransfer>
 <feFlood flood-color="#b0b0f0" result="lav"/>
 <feComposite in="lav" in2="ha" operator="in" result="halo"/>
 <feGaussianBlur in="c" stdDeviation="0.35" result="c2"/>
 <feMerge><feMergeNode in="halo"/><feMergeNode in="c2"/></feMerge>
</filter>
<linearGradient id="cbar" x1="0" y1="0" x2="0" y2="1">
 <stop offset="0" stop-color="#2a0000"/><stop offset="0.25" stop-color="#7a0000"/><stop offset="0.5" stop-color="#d01010"/>
 <stop offset="0.72" stop-color="#ff6000"/><stop offset="0.88" stop-color="#ffc000"/><stop offset="1" stop-color="#ffff00"/>
</linearGradient>
</defs>
<g clip-path="url(#clipB)">
<rect x="61.00" y="66.00" width="309.00" height="128.00" fill="#2a2a2a" />
<rect x="62.00" y="66.00" width="3.00" height="10.50" fill="#3a3a3a" opacity="0.9"/>
<rect x="69.40" y="66.00" width="3.00" height="10.50" fill="#3a3a3a" opacity="0.9"/>
<rect x="76.80" y="66.00" width="3.00" height="10.50" fill="#3a3a3a" opacity="0.9"/>
<rect x="84.20" y="66.00" width="3.00" height="10.50" fill="#3a3a3a" opacity="0.9"/>
<rect x="91.60" y="66.00" width="3.00" height="10.50" fill="#3a3a3a" opacity="0.9"/>
<rect x="99.00" y="66.00" width="3.00" height="10.50" fill="#3a3a3a" opacity="0.9"/>
<rect x="106.40" y="66.00" width="3.00" height="10.50" fill="#3a3a3a" opacity="0.9"/>
<rect x="113.80" y="66.00" width="3.00" height="10.50" fill="#3a3a3a" opacity="0.9"/>
<rect x="121.20" y="66.00" width="3.00" height="10.50" fill="#3a3a3a" opacity="0.9"/>
<rect x="128.60" y="66.00" width="3.00" height="10.50" fill="#3a3a3a" opacity="0.9"/>
<rect x="136.00" y="66.00" width="3.00" height="10.50" fill="#3a3a3a" opacity="0.9"/>
<rect x="143.40" y="66.00" width="3.00" height="10.50" fill="#3a3a3a" opacity="0.9"/>
<rect x="150.80" y="66.00" width="3.00" height="10.50" fill="#3a3a3a" opacity="0.9"/>
<rect x="158.20" y="66.00" width="3.00" height="10.50" fill="#3a3a3a" opacity="0.9"/>
<rect x="165.60" y="66.00" width="3.00" height="10.50" fill="#3a3a3a" opacity="0.9"/>
<rect x="173.00" y="66.00" width="3.00" height="10.50" fill="#3a3a3a" opacity="0.9"/>
<rect x="180.40" y="66.00" width="3.00" height="10.50" fill="#3a3a3a" opacity="0.9"/>
<rect x="187.80" y="66.00" width="3.00" height="10.50" fill="#3a3a3a" opacity="0.9"/>
<rect x="195.20" y="66.00" width="3.00" height="10.50" fill="#3a3a3a" opacity="0.9"/>
<rect x="202.60" y="66.00" width="3.00" height="10.50" fill="#3a3a3a" opacity="0.9"/>
<rect x="210.00" y="66.00" width="3.00" height="10.50" fill="#3a3a3a" opacity="0.9"/>
<rect x="215.00" y="66.00" width="3.00" height="10.50" fill="#3a3a3a" opacity="0.9"/>
<rect x="222.40" y="66.00" width="3.00" height="10.50" fill="#3a3a3a" opacity="0.9"/>
<rect x="229.80" y="66.00" width="3.00" height="10.50" fill="#3a3a3a" opacity="0.9"/>
<rect x="237.20" y="66.00" width="3.00" height="10.50" fill="#3a3a3a" opacity="0.9"/>
<rect x="244.60" y="66.00" width="3.00" height="10.50" fill="#3a3a3a" opacity="0.9"/>
<rect x="252.00" y="66.00" width="3.00" height="10.50" fill="#3a3a3a" opacity="0.9"/>
<rect x="259.40" y="66.00" width="3.00" height="10.50" fill="#3a3a3a" opacity="0.9"/>
<rect x="266.80" y="66.00" width="3.00" height="10.50" fill="#3a3a3a" opacity="0.9"/>
<rect x="274.20" y="66.00" width="3.00" height="10.50" fill="#3a3a3a" opacity="0.9"/>
<rect x="281.60" y="66.00" width="3.00" height="10.50" fill="#3a3a3a" opacity="0.9"/>
<rect x="289.00" y="66.00" width="3.00" height="10.50" fill="#3a3a3a" opacity="0.9"/>
<rect x="296.40" y="66.00" width="3.00" height="10.50" fill="#3a3a3a" opacity="0.9"/>
<rect x="303.80" y="66.00" width="3.00" height="10.50" fill="#3a3a3a" opacity="0.9"/>
<rect x="311.20" y="66.00" width="3.00" height="10.50" fill="#3a3a3a" opacity="0.9"/>
<rect x="318.60" y="66.00" width="3.00" height="10.50" fill="#3a3a3a" opacity="0.9"/>
<rect x="326.00" y="66.00" width="3.00" height="10.50" fill="#3a3a3a" opacity="0.9"/>
<rect x="333.40" y="66.00" width="3.00" height="10.50" fill="#3a3a3a" opacity="0.9"/>
<rect x="340.80" y="66.00" width="3.00" height="10.50" fill="#3a3a3a" opacity="0.9"/>
<rect x="348.20" y="66.00" width="3.00" height="10.50" fill="#3a3a3a" opacity="0.9"/>
<rect x="355.60" y="66.00" width="3.00" height="10.50" fill="#3a3a3a" opacity="0.9"/>
<rect x="363.00" y="66.00" width="3.00" height="10.50" fill="#3a3a3a" opacity="0.9"/>
<rect x="61.00" y="66.00" width="309.00" height="1.20" fill="#1a1a1a" />
<rect x="61.00" y="76.20" width="309.00" height="1.00" fill="#202020" />
<rect x="61.00" y="103.50" width="309.00" height="0.90" fill="#1f1f1f" />
<rect x="61.00" y="126.50" width="309.00" height="0.90" fill="#1f1f1f" />
<rect x="61.00" y="149.50" width="309.00" height="0.90" fill="#1f1f1f" />
<rect x="61.00" y="172.30" width="309.00" height="0.90" fill="#1f1f1f" />
<rect x="61.00" y="185.70" width="309.00" height="0.90" fill="#1f1f1f" />
<g filter="url(#soft)">
<ellipse cx="0" cy="0" rx="2.8" ry="3.6" fill="#a4a4a4" transform="translate(101,91.5) rotate(-30)"/>
<ellipse cx="0" cy="0" rx="4" ry="2.6" fill="#a4a4a4" transform="translate(110.5,83.5) rotate(20)"/>
<ellipse cx="0" cy="0" rx="3.8" ry="2.2" fill="#a4a4a4" transform="translate(147.5,91) rotate(20)"/>
<ellipse cx="0" cy="0" rx="4.5" ry="3" fill="#a4a4a4" transform="translate(163.5,84.5) rotate(30)"/>
<ellipse cx="0" cy="0" rx="3.2" ry="4.5" fill="#a4a4a4" transform="translate(222,84.5) rotate(0)"/>
<ellipse cx="0" cy="0" rx="3" ry="2" fill="#a4a4a4" transform="translate(221.5,95) rotate(0)"/>
<ellipse cx="0" cy="0" rx="3.8" ry="4.5" fill="#a4a4a4" transform="translate(271.5,85) rotate(0)"/>
<ellipse cx="0" cy="0" rx="2.6" ry="3" fill="#a4a4a4" transform="translate(303.4,91.4) rotate(0)"/>
</g>
<g filter="url(#soft)">
<path d="M77.80,164.00 L82.20,164.00 L82.00,194.00 L79.20,194.00Z" fill="url(#tailg)"/>
<path d="M69.50,156.00 C69.28,157.50 68.58,162.25 68.20,165.00 C67.82,167.75 67.37,171.25 67.20,172.50" fill="none" stroke="#cfcfcf" stroke-width="5.06" stroke-linecap="round"/>
<path d="M90.50,158.00 C91.08,159.33 92.95,163.47 94.00,166.00 C95.05,168.53 96.33,172.00 96.80,173.20" fill="none" stroke="#cfcfcf" stroke-width="5.06" stroke-linecap="round"/>
<path d="M83.80,72.00 C85.02,72.00 86.55,72.53 87.50,73.30 C88.45,74.07 88.95,75.40 89.50,76.60 C90.05,77.80 89.72,78.90 90.80,80.50 C91.88,82.10 94.55,84.90 96.00,86.20 C97.45,87.50 98.37,87.25 99.50,88.30 C100.63,89.35 102.55,91.25 102.80,92.50 C103.05,93.75 101.87,94.55 101.00,95.80 C100.13,97.05 98.17,97.97 97.60,100.00 C97.03,102.03 97.33,105.00 97.60,108.00 C97.87,111.00 98.72,114.67 99.20,118.00 C99.68,121.33 100.27,124.33 100.50,128.00 C100.73,131.67 100.72,136.00 100.60,140.00 C100.48,144.00 101.07,148.58 99.80,152.00 C98.53,155.42 95.47,158.25 93.00,160.50 C90.53,162.75 87.17,164.42 85.00,165.50 C82.83,166.58 81.67,167.00 80.00,167.00 C78.33,167.00 76.83,166.58 75.00,165.50 C73.17,164.42 70.75,162.75 69.00,160.50 C67.25,158.25 65.42,155.42 64.50,152.00 C63.58,148.58 63.42,144.00 63.50,140.00 C63.58,136.00 64.33,132.00 65.00,128.00 C65.67,124.00 66.83,120.00 67.50,116.00 C68.17,112.00 68.50,107.80 69.00,104.00 C69.50,100.20 69.73,96.13 70.50,93.20 C71.27,90.27 72.43,88.52 73.60,86.40 C74.77,84.28 76.67,82.13 77.50,80.50 C78.33,78.87 78.15,77.80 78.60,76.60 C79.05,75.40 79.33,74.07 80.20,73.30 C81.07,72.53 82.58,72.00 83.80,72.00Z" fill="url(#fur)"/>
<path d="M127.60,162.00 L132.00,162.00 L132.00,194.00 L129.20,194.00Z" fill="url(#tailg)"/>
<path d="M119.00,154.00 C118.63,154.83 117.43,157.53 116.80,159.00 C116.17,160.47 115.47,162.17 115.20,162.80" fill="none" stroke="#cfcfcf" stroke-width="5.75" stroke-linecap="round"/>
<path d="M140.50,150.00 C141.75,150.83 145.65,153.37 148.00,155.00 C150.35,156.63 153.50,159.00 154.60,159.80" fill="none" stroke="#cfcfcf" stroke-width="4.83" stroke-linecap="round"/>
<path d="M120.50,64.00 C122.83,62.67 130.67,62.67 133.00,64.00 C135.33,65.33 133.93,69.57 134.50,72.00 C135.07,74.43 135.32,76.27 136.40,78.60 C137.48,80.93 139.32,84.35 141.00,86.00 C142.68,87.65 144.87,87.80 146.50,88.50 C148.13,89.20 150.13,89.45 150.80,90.20 C151.47,90.95 151.30,92.12 150.50,93.00 C149.70,93.88 147.00,94.27 146.00,95.50 C145.00,96.73 144.92,98.32 144.50,100.40 C144.08,102.48 143.75,105.07 143.50,108.00 C143.25,110.93 142.92,114.00 143.00,118.00 C143.08,122.00 144.03,127.33 144.00,132.00 C143.97,136.67 143.63,141.75 142.80,146.00 C141.97,150.25 141.13,154.42 139.00,157.50 C136.87,160.58 133.00,164.08 130.00,164.50 C127.00,164.92 124.33,162.42 121.00,160.00 C117.67,157.58 112.20,153.33 110.00,150.00 C107.80,146.67 108.38,143.67 107.80,140.00 C107.22,136.33 106.72,131.75 106.50,128.00 C106.28,124.25 106.08,121.17 106.50,117.50 C106.92,113.83 108.20,108.85 109.00,106.00 C109.80,103.15 110.85,103.07 111.30,100.40 C111.75,97.73 112.25,92.32 111.70,90.00 C111.15,87.68 108.72,87.92 108.00,86.50 C107.28,85.08 106.90,82.67 107.40,81.50 C107.90,80.33 109.55,79.98 111.00,79.50 C112.45,79.02 114.77,79.85 116.10,78.60 C117.43,77.35 118.27,74.43 119.00,72.00 C119.73,69.57 118.17,65.33 120.50,64.00Z" fill="url(#fur)"/>
<path d="M180.80,164.00 L185.20,164.00 L181.90,194.00 L179.10,194.00Z" fill="url(#tailg)"/>
<path d="M168.00,156.00 C167.25,157.00 164.83,160.25 163.50,162.00 C162.17,163.75 160.58,165.75 160.00,166.50" fill="none" stroke="#cfcfcf" stroke-width="5.75" stroke-linecap="round"/>
<path d="M197.50,155.00 C198.58,155.67 201.87,157.50 204.00,159.00 C206.13,160.50 209.25,163.17 210.30,164.00" fill="none" stroke="#cfcfcf" stroke-width="5.06" stroke-linecap="round"/>
<path d="M176.50,64.00 C178.53,63.00 184.95,63.00 187.00,64.00 C189.05,65.00 188.22,67.83 188.80,70.00 C189.38,72.17 189.63,74.92 190.50,77.00 C191.37,79.08 192.92,81.08 194.00,82.50 C195.08,83.92 196.58,84.25 197.00,85.50 C197.42,86.75 196.50,88.25 196.50,90.00 C196.50,91.75 196.75,93.67 197.00,96.00 C197.25,98.33 197.75,100.67 198.00,104.00 C198.25,107.33 198.25,112.00 198.50,116.00 C198.75,120.00 198.58,124.33 199.50,128.00 C200.42,131.67 203.00,135.00 204.00,138.00 C205.00,141.00 205.83,143.33 205.50,146.00 C205.17,148.67 203.92,151.50 202.00,154.00 C200.08,156.50 197.00,159.00 194.00,161.00 C191.00,163.00 187.50,166.00 184.00,166.00 C180.50,166.00 176.17,163.00 173.00,161.00 C169.83,159.00 166.83,156.50 165.00,154.00 C163.17,151.50 162.50,149.00 162.00,146.00 C161.50,143.00 161.83,139.67 162.00,136.00 C162.17,132.33 162.72,128.00 163.00,124.00 C163.28,120.00 163.45,116.00 163.70,112.00 C163.95,108.00 164.20,103.33 164.50,100.00 C164.80,96.67 166.08,93.92 165.50,92.00 C164.92,90.08 162.00,89.83 161.00,88.50 C160.00,87.17 159.42,85.33 159.50,84.00 C159.58,82.67 160.17,81.08 161.50,80.50 C162.83,79.92 165.68,81.25 167.50,80.50 C169.32,79.75 171.18,77.75 172.40,76.00 C173.62,74.25 174.12,72.00 174.80,70.00 C175.48,68.00 174.47,65.00 176.50,64.00Z" fill="url(#fur)"/>
<path d="M238.00,160.00 L242.40,160.00 L242.60,194.00 L239.80,194.00Z" fill="url(#tailg)"/>
<path d="M228.50,152.00 C227.42,152.67 224.05,154.83 222.00,156.00 C219.95,157.17 217.17,158.50 216.20,159.00" fill="none" stroke="#cfcfcf" stroke-width="5.29" stroke-linecap="round"/>
<path d="M255.00,153.00 C256.00,154.08 259.08,157.33 261.00,159.50 C262.92,161.67 265.58,164.92 266.50,166.00" fill="none" stroke="#cfcfcf" stroke-width="5.29" stroke-linecap="round"/>
<path d="M233.80,64.00 C236.15,62.83 243.32,62.83 245.60,64.00 C247.88,65.17 246.75,68.77 247.50,71.00 C248.25,73.23 248.93,74.90 250.10,77.40 C251.27,79.90 253.27,83.98 254.50,86.00 C255.73,88.02 257.08,88.33 257.50,89.50 C257.92,90.67 257.33,91.75 257.00,93.00 C256.67,94.25 255.70,94.83 255.50,97.00 C255.30,99.17 255.47,102.50 255.80,106.00 C256.13,109.50 257.05,114.00 257.50,118.00 C257.95,122.00 258.42,126.00 258.50,130.00 C258.58,134.00 258.58,138.33 258.00,142.00 C257.42,145.67 256.67,149.25 255.00,152.00 C253.33,154.75 250.42,156.92 248.00,158.50 C245.58,160.08 243.00,161.50 240.50,161.50 C238.00,161.50 235.42,160.08 233.00,158.50 C230.58,156.92 227.67,154.75 226.00,152.00 C224.33,149.25 223.40,145.67 223.00,142.00 C222.60,138.33 223.43,134.00 223.60,130.00 C223.77,126.00 223.93,122.00 224.00,118.00 C224.07,114.00 224.17,109.17 224.00,106.00 C223.83,102.83 223.75,100.58 223.00,99.00 C222.25,97.42 220.08,97.50 219.50,96.50 C218.92,95.50 219.00,93.92 219.50,93.00 C220.00,92.08 222.50,92.17 222.50,91.00 C222.50,89.83 220.00,87.67 219.50,86.00 C219.00,84.33 218.75,82.08 219.50,81.00 C220.25,79.92 222.47,80.10 224.00,79.50 C225.53,78.90 227.45,78.82 228.70,77.40 C229.95,75.98 230.65,73.23 231.50,71.00 C232.35,68.77 231.45,65.17 233.80,64.00Z" fill="url(#fur)"/>
<path d="M291.60,162.00 L296.00,162.00 L293.60,194.00 L290.80,194.00Z" fill="url(#tailg)"/>
<path d="M282.00,156.00 C281.33,157.33 279.33,161.37 278.00,164.00 C276.67,166.63 274.67,170.50 274.00,171.80" fill="none" stroke="#cfcfcf" stroke-width="5.29" stroke-linecap="round"/>
<path d="M307.00,152.00 C307.83,152.92 310.40,155.85 312.00,157.50 C313.60,159.15 315.83,161.17 316.60,161.90" fill="none" stroke="#cfcfcf" stroke-width="5.29" stroke-linecap="round"/>
<path d="M281.80,64.00 C283.90,62.83 291.32,62.83 293.60,64.00 C295.88,65.17 294.87,68.77 295.50,71.00 C296.13,73.23 296.40,74.90 297.40,77.40 C298.40,79.90 300.15,84.07 301.50,86.00 C302.85,87.93 304.83,87.75 305.50,89.00 C306.17,90.25 305.83,92.17 305.50,93.50 C305.17,94.83 303.75,94.92 303.50,97.00 C303.25,99.08 303.50,102.50 304.00,106.00 C304.50,109.50 305.75,114.00 306.50,118.00 C307.25,122.00 308.17,126.00 308.50,130.00 C308.83,134.00 309.08,138.33 308.50,142.00 C307.92,145.67 306.58,149.08 305.00,152.00 C303.42,154.92 300.83,157.58 299.00,159.50 C297.17,161.42 295.83,163.42 294.00,163.50 C292.17,163.58 290.17,161.92 288.00,160.00 C285.83,158.08 283.25,155.00 281.00,152.00 C278.75,149.00 275.87,145.67 274.50,142.00 C273.13,138.33 273.12,134.00 272.80,130.00 C272.48,126.00 272.57,122.00 272.60,118.00 C272.63,114.00 273.02,109.67 273.00,106.00 C272.98,102.33 273.25,98.67 272.50,96.00 C271.75,93.33 269.28,92.17 268.50,90.00 C267.72,87.83 267.38,84.58 267.80,83.00 C268.22,81.42 269.63,81.08 271.00,80.50 C272.37,79.92 274.60,80.02 276.00,79.50 C277.40,78.98 278.57,78.82 279.40,77.40 C280.23,75.98 280.60,73.23 281.00,71.00 C281.40,68.77 279.70,65.17 281.80,64.00Z" fill="url(#fur)"/>
<path d="M340.80,166.00 L345.20,166.00 L344.00,194.00 L341.20,194.00Z" fill="url(#tailg)"/>
<path d="M330.50,158.00 C329.92,159.17 328.17,162.82 327.00,165.00 C325.83,167.18 324.08,170.08 323.50,171.10" fill="none" stroke="#cfcfcf" stroke-width="5.29" stroke-linecap="round"/>
<path d="M356.00,160.00 C357.00,160.92 359.97,163.80 362.00,165.50 C364.03,167.20 367.17,169.42 368.20,170.20" fill="none" stroke="#cfcfcf" stroke-width="5.29" stroke-linecap="round"/>
<path d="M345.40,71.50 C346.40,71.50 347.60,72.52 348.50,73.50 C349.40,74.48 349.97,76.23 350.80,77.40 C351.63,78.57 352.50,79.40 353.50,80.50 C354.50,81.60 355.72,82.58 356.80,84.00 C357.88,85.42 359.17,87.43 360.00,89.00 C360.83,90.57 361.67,91.57 361.80,93.40 C361.93,95.23 360.93,97.57 360.80,100.00 C360.67,102.43 360.80,105.00 361.00,108.00 C361.20,111.00 361.58,114.67 362.00,118.00 C362.42,121.33 363.08,124.67 363.50,128.00 C363.92,131.33 364.33,135.00 364.50,138.00 C364.67,141.00 365.25,143.17 364.50,146.00 C363.75,148.83 361.75,152.33 360.00,155.00 C358.25,157.67 356.33,160.00 354.00,162.00 C351.67,164.00 348.50,166.33 346.00,167.00 C343.50,167.67 341.33,167.00 339.00,166.00 C336.67,165.00 333.92,163.17 332.00,161.00 C330.08,158.83 328.63,155.67 327.50,153.00 C326.37,150.33 325.20,147.67 325.20,145.00 C325.20,142.33 326.87,140.00 327.50,137.00 C328.13,134.00 328.50,130.50 329.00,127.00 C329.50,123.50 330.10,119.83 330.50,116.00 C330.90,112.17 331.37,107.33 331.40,104.00 C331.43,100.67 330.60,98.33 330.70,96.00 C330.80,93.67 331.22,92.00 332.00,90.00 C332.78,88.00 334.32,85.58 335.40,84.00 C336.48,82.42 337.62,81.60 338.50,80.50 C339.38,79.40 340.03,78.57 340.70,77.40 C341.37,76.23 341.72,74.48 342.50,73.50 C343.28,72.52 344.40,71.50 345.40,71.50Z" fill="url(#fur)"/>
</g>
<g opacity="0.22">
<path d="M83.80,72.00 C85.02,72.00 86.55,72.53 87.50,73.30 C88.45,74.07 88.95,75.40 89.50,76.60 C90.05,77.80 89.72,78.90 90.80,80.50 C91.88,82.10 94.55,84.90 96.00,86.20 C97.45,87.50 98.37,87.25 99.50,88.30 C100.63,89.35 102.55,91.25 102.80,92.50 C103.05,93.75 101.87,94.55 101.00,95.80 C100.13,97.05 98.17,97.97 97.60,100.00 C97.03,102.03 97.33,105.00 97.60,108.00 C97.87,111.00 98.72,114.67 99.20,118.00 C99.68,121.33 100.27,124.33 100.50,128.00 C100.73,131.67 100.72,136.00 100.60,140.00 C100.48,144.00 101.07,148.58 99.80,152.00 C98.53,155.42 95.47,158.25 93.00,160.50 C90.53,162.75 87.17,164.42 85.00,165.50 C82.83,166.58 81.67,167.00 80.00,167.00 C78.33,167.00 76.83,166.58 75.00,165.50 C73.17,164.42 70.75,162.75 69.00,160.50 C67.25,158.25 65.42,155.42 64.50,152.00 C63.58,148.58 63.42,144.00 63.50,140.00 C63.58,136.00 64.33,132.00 65.00,128.00 C65.67,124.00 66.83,120.00 67.50,116.00 C68.17,112.00 68.50,107.80 69.00,104.00 C69.50,100.20 69.73,96.13 70.50,93.20 C71.27,90.27 72.43,88.52 73.60,86.40 C74.77,84.28 76.67,82.13 77.50,80.50 C78.33,78.87 78.15,77.80 78.60,76.60 C79.05,75.40 79.33,74.07 80.20,73.30 C81.07,72.53 82.58,72.00 83.80,72.00Z" fill="#000" filter="url(#furtex)"/>
<path d="M120.50,64.00 C122.83,62.67 130.67,62.67 133.00,64.00 C135.33,65.33 133.93,69.57 134.50,72.00 C135.07,74.43 135.32,76.27 136.40,78.60 C137.48,80.93 139.32,84.35 141.00,86.00 C142.68,87.65 144.87,87.80 146.50,88.50 C148.13,89.20 150.13,89.45 150.80,90.20 C151.47,90.95 151.30,92.12 150.50,93.00 C149.70,93.88 147.00,94.27 146.00,95.50 C145.00,96.73 144.92,98.32 144.50,100.40 C144.08,102.48 143.75,105.07 143.50,108.00 C143.25,110.93 142.92,114.00 143.00,118.00 C143.08,122.00 144.03,127.33 144.00,132.00 C143.97,136.67 143.63,141.75 142.80,146.00 C141.97,150.25 141.13,154.42 139.00,157.50 C136.87,160.58 133.00,164.08 130.00,164.50 C127.00,164.92 124.33,162.42 121.00,160.00 C117.67,157.58 112.20,153.33 110.00,150.00 C107.80,146.67 108.38,143.67 107.80,140.00 C107.22,136.33 106.72,131.75 106.50,128.00 C106.28,124.25 106.08,121.17 106.50,117.50 C106.92,113.83 108.20,108.85 109.00,106.00 C109.80,103.15 110.85,103.07 111.30,100.40 C111.75,97.73 112.25,92.32 111.70,90.00 C111.15,87.68 108.72,87.92 108.00,86.50 C107.28,85.08 106.90,82.67 107.40,81.50 C107.90,80.33 109.55,79.98 111.00,79.50 C112.45,79.02 114.77,79.85 116.10,78.60 C117.43,77.35 118.27,74.43 119.00,72.00 C119.73,69.57 118.17,65.33 120.50,64.00Z" fill="#000" filter="url(#furtex)"/>
<path d="M176.50,64.00 C178.53,63.00 184.95,63.00 187.00,64.00 C189.05,65.00 188.22,67.83 188.80,70.00 C189.38,72.17 189.63,74.92 190.50,77.00 C191.37,79.08 192.92,81.08 194.00,82.50 C195.08,83.92 196.58,84.25 197.00,85.50 C197.42,86.75 196.50,88.25 196.50,90.00 C196.50,91.75 196.75,93.67 197.00,96.00 C197.25,98.33 197.75,100.67 198.00,104.00 C198.25,107.33 198.25,112.00 198.50,116.00 C198.75,120.00 198.58,124.33 199.50,128.00 C200.42,131.67 203.00,135.00 204.00,138.00 C205.00,141.00 205.83,143.33 205.50,146.00 C205.17,148.67 203.92,151.50 202.00,154.00 C200.08,156.50 197.00,159.00 194.00,161.00 C191.00,163.00 187.50,166.00 184.00,166.00 C180.50,166.00 176.17,163.00 173.00,161.00 C169.83,159.00 166.83,156.50 165.00,154.00 C163.17,151.50 162.50,149.00 162.00,146.00 C161.50,143.00 161.83,139.67 162.00,136.00 C162.17,132.33 162.72,128.00 163.00,124.00 C163.28,120.00 163.45,116.00 163.70,112.00 C163.95,108.00 164.20,103.33 164.50,100.00 C164.80,96.67 166.08,93.92 165.50,92.00 C164.92,90.08 162.00,89.83 161.00,88.50 C160.00,87.17 159.42,85.33 159.50,84.00 C159.58,82.67 160.17,81.08 161.50,80.50 C162.83,79.92 165.68,81.25 167.50,80.50 C169.32,79.75 171.18,77.75 172.40,76.00 C173.62,74.25 174.12,72.00 174.80,70.00 C175.48,68.00 174.47,65.00 176.50,64.00Z" fill="#000" filter="url(#furtex)"/>
<path d="M233.80,64.00 C236.15,62.83 243.32,62.83 245.60,64.00 C247.88,65.17 246.75,68.77 247.50,71.00 C248.25,73.23 248.93,74.90 250.10,77.40 C251.27,79.90 253.27,83.98 254.50,86.00 C255.73,88.02 257.08,88.33 257.50,89.50 C257.92,90.67 257.33,91.75 257.00,93.00 C256.67,94.25 255.70,94.83 255.50,97.00 C255.30,99.17 255.47,102.50 255.80,106.00 C256.13,109.50 257.05,114.00 257.50,118.00 C257.95,122.00 258.42,126.00 258.50,130.00 C258.58,134.00 258.58,138.33 258.00,142.00 C257.42,145.67 256.67,149.25 255.00,152.00 C253.33,154.75 250.42,156.92 248.00,158.50 C245.58,160.08 243.00,161.50 240.50,161.50 C238.00,161.50 235.42,160.08 233.00,158.50 C230.58,156.92 227.67,154.75 226.00,152.00 C224.33,149.25 223.40,145.67 223.00,142.00 C222.60,138.33 223.43,134.00 223.60,130.00 C223.77,126.00 223.93,122.00 224.00,118.00 C224.07,114.00 224.17,109.17 224.00,106.00 C223.83,102.83 223.75,100.58 223.00,99.00 C222.25,97.42 220.08,97.50 219.50,96.50 C218.92,95.50 219.00,93.92 219.50,93.00 C220.00,92.08 222.50,92.17 222.50,91.00 C222.50,89.83 220.00,87.67 219.50,86.00 C219.00,84.33 218.75,82.08 219.50,81.00 C220.25,79.92 222.47,80.10 224.00,79.50 C225.53,78.90 227.45,78.82 228.70,77.40 C229.95,75.98 230.65,73.23 231.50,71.00 C232.35,68.77 231.45,65.17 233.80,64.00Z" fill="#000" filter="url(#furtex)"/>
<path d="M281.80,64.00 C283.90,62.83 291.32,62.83 293.60,64.00 C295.88,65.17 294.87,68.77 295.50,71.00 C296.13,73.23 296.40,74.90 297.40,77.40 C298.40,79.90 300.15,84.07 301.50,86.00 C302.85,87.93 304.83,87.75 305.50,89.00 C306.17,90.25 305.83,92.17 305.50,93.50 C305.17,94.83 303.75,94.92 303.50,97.00 C303.25,99.08 303.50,102.50 304.00,106.00 C304.50,109.50 305.75,114.00 306.50,118.00 C307.25,122.00 308.17,126.00 308.50,130.00 C308.83,134.00 309.08,138.33 308.50,142.00 C307.92,145.67 306.58,149.08 305.00,152.00 C303.42,154.92 300.83,157.58 299.00,159.50 C297.17,161.42 295.83,163.42 294.00,163.50 C292.17,163.58 290.17,161.92 288.00,160.00 C285.83,158.08 283.25,155.00 281.00,152.00 C278.75,149.00 275.87,145.67 274.50,142.00 C273.13,138.33 273.12,134.00 272.80,130.00 C272.48,126.00 272.57,122.00 272.60,118.00 C272.63,114.00 273.02,109.67 273.00,106.00 C272.98,102.33 273.25,98.67 272.50,96.00 C271.75,93.33 269.28,92.17 268.50,90.00 C267.72,87.83 267.38,84.58 267.80,83.00 C268.22,81.42 269.63,81.08 271.00,80.50 C272.37,79.92 274.60,80.02 276.00,79.50 C277.40,78.98 278.57,78.82 279.40,77.40 C280.23,75.98 280.60,73.23 281.00,71.00 C281.40,68.77 279.70,65.17 281.80,64.00Z" fill="#000" filter="url(#furtex)"/>
<path d="M345.40,71.50 C346.40,71.50 347.60,72.52 348.50,73.50 C349.40,74.48 349.97,76.23 350.80,77.40 C351.63,78.57 352.50,79.40 353.50,80.50 C354.50,81.60 355.72,82.58 356.80,84.00 C357.88,85.42 359.17,87.43 360.00,89.00 C360.83,90.57 361.67,91.57 361.80,93.40 C361.93,95.23 360.93,97.57 360.80,100.00 C360.67,102.43 360.80,105.00 361.00,108.00 C361.20,111.00 361.58,114.67 362.00,118.00 C362.42,121.33 363.08,124.67 363.50,128.00 C363.92,131.33 364.33,135.00 364.50,138.00 C364.67,141.00 365.25,143.17 364.50,146.00 C363.75,148.83 361.75,152.33 360.00,155.00 C358.25,157.67 356.33,160.00 354.00,162.00 C351.67,164.00 348.50,166.33 346.00,167.00 C343.50,167.67 341.33,167.00 339.00,166.00 C336.67,165.00 333.92,163.17 332.00,161.00 C330.08,158.83 328.63,155.67 327.50,153.00 C326.37,150.33 325.20,147.67 325.20,145.00 C325.20,142.33 326.87,140.00 327.50,137.00 C328.13,134.00 328.50,130.50 329.00,127.00 C329.50,123.50 330.10,119.83 330.50,116.00 C330.90,112.17 331.37,107.33 331.40,104.00 C331.43,100.67 330.60,98.33 330.70,96.00 C330.80,93.67 331.22,92.00 332.00,90.00 C332.78,88.00 334.32,85.58 335.40,84.00 C336.48,82.42 337.62,81.60 338.50,80.50 C339.38,79.40 340.03,78.57 340.70,77.40 C341.37,76.23 341.72,74.48 342.50,73.50 C343.28,72.52 344.40,71.50 345.40,71.50Z" fill="#000" filter="url(#furtex)"/>
</g>
<defs><clipPath id="mc0"><path d="M83.80,72.00 C85.02,72.00 86.55,72.53 87.50,73.30 C88.45,74.07 88.95,75.40 89.50,76.60 C90.05,77.80 89.72,78.90 90.80,80.50 C91.88,82.10 94.55,84.90 96.00,86.20 C97.45,87.50 98.37,87.25 99.50,88.30 C100.63,89.35 102.55,91.25 102.80,92.50 C103.05,93.75 101.87,94.55 101.00,95.80 C100.13,97.05 98.17,97.97 97.60,100.00 C97.03,102.03 97.33,105.00 97.60,108.00 C97.87,111.00 98.72,114.67 99.20,118.00 C99.68,121.33 100.27,124.33 100.50,128.00 C100.73,131.67 100.72,136.00 100.60,140.00 C100.48,144.00 101.07,148.58 99.80,152.00 C98.53,155.42 95.47,158.25 93.00,160.50 C90.53,162.75 87.17,164.42 85.00,165.50 C82.83,166.58 81.67,167.00 80.00,167.00 C78.33,167.00 76.83,166.58 75.00,165.50 C73.17,164.42 70.75,162.75 69.00,160.50 C67.25,158.25 65.42,155.42 64.50,152.00 C63.58,148.58 63.42,144.00 63.50,140.00 C63.58,136.00 64.33,132.00 65.00,128.00 C65.67,124.00 66.83,120.00 67.50,116.00 C68.17,112.00 68.50,107.80 69.00,104.00 C69.50,100.20 69.73,96.13 70.50,93.20 C71.27,90.27 72.43,88.52 73.60,86.40 C74.77,84.28 76.67,82.13 77.50,80.50 C78.33,78.87 78.15,77.80 78.60,76.60 C79.05,75.40 79.33,74.07 80.20,73.30 C81.07,72.53 82.58,72.00 83.80,72.00Z"/></clipPath><clipPath id="mc1"><path d="M120.50,64.00 C122.83,62.67 130.67,62.67 133.00,64.00 C135.33,65.33 133.93,69.57 134.50,72.00 C135.07,74.43 135.32,76.27 136.40,78.60 C137.48,80.93 139.32,84.35 141.00,86.00 C142.68,87.65 144.87,87.80 146.50,88.50 C148.13,89.20 150.13,89.45 150.80,90.20 C151.47,90.95 151.30,92.12 150.50,93.00 C149.70,93.88 147.00,94.27 146.00,95.50 C145.00,96.73 144.92,98.32 144.50,100.40 C144.08,102.48 143.75,105.07 143.50,108.00 C143.25,110.93 142.92,114.00 143.00,118.00 C143.08,122.00 144.03,127.33 144.00,132.00 C143.97,136.67 143.63,141.75 142.80,146.00 C141.97,150.25 141.13,154.42 139.00,157.50 C136.87,160.58 133.00,164.08 130.00,164.50 C127.00,164.92 124.33,162.42 121.00,160.00 C117.67,157.58 112.20,153.33 110.00,150.00 C107.80,146.67 108.38,143.67 107.80,140.00 C107.22,136.33 106.72,131.75 106.50,128.00 C106.28,124.25 106.08,121.17 106.50,117.50 C106.92,113.83 108.20,108.85 109.00,106.00 C109.80,103.15 110.85,103.07 111.30,100.40 C111.75,97.73 112.25,92.32 111.70,90.00 C111.15,87.68 108.72,87.92 108.00,86.50 C107.28,85.08 106.90,82.67 107.40,81.50 C107.90,80.33 109.55,79.98 111.00,79.50 C112.45,79.02 114.77,79.85 116.10,78.60 C117.43,77.35 118.27,74.43 119.00,72.00 C119.73,69.57 118.17,65.33 120.50,64.00Z"/></clipPath><clipPath id="mc2"><path d="M176.50,64.00 C178.53,63.00 184.95,63.00 187.00,64.00 C189.05,65.00 188.22,67.83 188.80,70.00 C189.38,72.17 189.63,74.92 190.50,77.00 C191.37,79.08 192.92,81.08 194.00,82.50 C195.08,83.92 196.58,84.25 197.00,85.50 C197.42,86.75 196.50,88.25 196.50,90.00 C196.50,91.75 196.75,93.67 197.00,96.00 C197.25,98.33 197.75,100.67 198.00,104.00 C198.25,107.33 198.25,112.00 198.50,116.00 C198.75,120.00 198.58,124.33 199.50,128.00 C200.42,131.67 203.00,135.00 204.00,138.00 C205.00,141.00 205.83,143.33 205.50,146.00 C205.17,148.67 203.92,151.50 202.00,154.00 C200.08,156.50 197.00,159.00 194.00,161.00 C191.00,163.00 187.50,166.00 184.00,166.00 C180.50,166.00 176.17,163.00 173.00,161.00 C169.83,159.00 166.83,156.50 165.00,154.00 C163.17,151.50 162.50,149.00 162.00,146.00 C161.50,143.00 161.83,139.67 162.00,136.00 C162.17,132.33 162.72,128.00 163.00,124.00 C163.28,120.00 163.45,116.00 163.70,112.00 C163.95,108.00 164.20,103.33 164.50,100.00 C164.80,96.67 166.08,93.92 165.50,92.00 C164.92,90.08 162.00,89.83 161.00,88.50 C160.00,87.17 159.42,85.33 159.50,84.00 C159.58,82.67 160.17,81.08 161.50,80.50 C162.83,79.92 165.68,81.25 167.50,80.50 C169.32,79.75 171.18,77.75 172.40,76.00 C173.62,74.25 174.12,72.00 174.80,70.00 C175.48,68.00 174.47,65.00 176.50,64.00Z"/></clipPath><clipPath id="mc3"><path d="M233.80,64.00 C236.15,62.83 243.32,62.83 245.60,64.00 C247.88,65.17 246.75,68.77 247.50,71.00 C248.25,73.23 248.93,74.90 250.10,77.40 C251.27,79.90 253.27,83.98 254.50,86.00 C255.73,88.02 257.08,88.33 257.50,89.50 C257.92,90.67 257.33,91.75 257.00,93.00 C256.67,94.25 255.70,94.83 255.50,97.00 C255.30,99.17 255.47,102.50 255.80,106.00 C256.13,109.50 257.05,114.00 257.50,118.00 C257.95,122.00 258.42,126.00 258.50,130.00 C258.58,134.00 258.58,138.33 258.00,142.00 C257.42,145.67 256.67,149.25 255.00,152.00 C253.33,154.75 250.42,156.92 248.00,158.50 C245.58,160.08 243.00,161.50 240.50,161.50 C238.00,161.50 235.42,160.08 233.00,158.50 C230.58,156.92 227.67,154.75 226.00,152.00 C224.33,149.25 223.40,145.67 223.00,142.00 C222.60,138.33 223.43,134.00 223.60,130.00 C223.77,126.00 223.93,122.00 224.00,118.00 C224.07,114.00 224.17,109.17 224.00,106.00 C223.83,102.83 223.75,100.58 223.00,99.00 C222.25,97.42 220.08,97.50 219.50,96.50 C218.92,95.50 219.00,93.92 219.50,93.00 C220.00,92.08 222.50,92.17 222.50,91.00 C222.50,89.83 220.00,87.67 219.50,86.00 C219.00,84.33 218.75,82.08 219.50,81.00 C220.25,79.92 222.47,80.10 224.00,79.50 C225.53,78.90 227.45,78.82 228.70,77.40 C229.95,75.98 230.65,73.23 231.50,71.00 C232.35,68.77 231.45,65.17 233.80,64.00Z"/></clipPath><clipPath id="mc4"><path d="M281.80,64.00 C283.90,62.83 291.32,62.83 293.60,64.00 C295.88,65.17 294.87,68.77 295.50,71.00 C296.13,73.23 296.40,74.90 297.40,77.40 C298.40,79.90 300.15,84.07 301.50,86.00 C302.85,87.93 304.83,87.75 305.50,89.00 C306.17,90.25 305.83,92.17 305.50,93.50 C305.17,94.83 303.75,94.92 303.50,97.00 C303.25,99.08 303.50,102.50 304.00,106.00 C304.50,109.50 305.75,114.00 306.50,118.00 C307.25,122.00 308.17,126.00 308.50,130.00 C308.83,134.00 309.08,138.33 308.50,142.00 C307.92,145.67 306.58,149.08 305.00,152.00 C303.42,154.92 300.83,157.58 299.00,159.50 C297.17,161.42 295.83,163.42 294.00,163.50 C292.17,163.58 290.17,161.92 288.00,160.00 C285.83,158.08 283.25,155.00 281.00,152.00 C278.75,149.00 275.87,145.67 274.50,142.00 C273.13,138.33 273.12,134.00 272.80,130.00 C272.48,126.00 272.57,122.00 272.60,118.00 C272.63,114.00 273.02,109.67 273.00,106.00 C272.98,102.33 273.25,98.67 272.50,96.00 C271.75,93.33 269.28,92.17 268.50,90.00 C267.72,87.83 267.38,84.58 267.80,83.00 C268.22,81.42 269.63,81.08 271.00,80.50 C272.37,79.92 274.60,80.02 276.00,79.50 C277.40,78.98 278.57,78.82 279.40,77.40 C280.23,75.98 280.60,73.23 281.00,71.00 C281.40,68.77 279.70,65.17 281.80,64.00Z"/></clipPath><clipPath id="mc5"><path d="M345.40,71.50 C346.40,71.50 347.60,72.52 348.50,73.50 C349.40,74.48 349.97,76.23 350.80,77.40 C351.63,78.57 352.50,79.40 353.50,80.50 C354.50,81.60 355.72,82.58 356.80,84.00 C357.88,85.42 359.17,87.43 360.00,89.00 C360.83,90.57 361.67,91.57 361.80,93.40 C361.93,95.23 360.93,97.57 360.80,100.00 C360.67,102.43 360.80,105.00 361.00,108.00 C361.20,111.00 361.58,114.67 362.00,118.00 C362.42,121.33 363.08,124.67 363.50,128.00 C363.92,131.33 364.33,135.00 364.50,138.00 C364.67,141.00 365.25,143.17 364.50,146.00 C363.75,148.83 361.75,152.33 360.00,155.00 C358.25,157.67 356.33,160.00 354.00,162.00 C351.67,164.00 348.50,166.33 346.00,167.00 C343.50,167.67 341.33,167.00 339.00,166.00 C336.67,165.00 333.92,163.17 332.00,161.00 C330.08,158.83 328.63,155.67 327.50,153.00 C326.37,150.33 325.20,147.67 325.20,145.00 C325.20,142.33 326.87,140.00 327.50,137.00 C328.13,134.00 328.50,130.50 329.00,127.00 C329.50,123.50 330.10,119.83 330.50,116.00 C330.90,112.17 331.37,107.33 331.40,104.00 C331.43,100.67 330.60,98.33 330.70,96.00 C330.80,93.67 331.22,92.00 332.00,90.00 C332.78,88.00 334.32,85.58 335.40,84.00 C336.48,82.42 337.62,81.60 338.50,80.50 C339.38,79.40 340.03,78.57 340.70,77.40 C341.37,76.23 341.72,74.48 342.50,73.50 C343.28,72.52 344.40,71.50 345.40,71.50Z"/></clipPath></defs>
<g clip-path="url(#mc0)"><ellipse cx="84" cy="74" rx="6" ry="6" fill="#7a7a7a" opacity="0.45" filter="url(#soft)"/></g>
<g clip-path="url(#mc1)"><ellipse cx="127" cy="67" rx="8" ry="9" fill="#7a7a7a" opacity="0.45" filter="url(#soft)"/></g>
<g clip-path="url(#mc2)"><ellipse cx="181.7" cy="67" rx="8" ry="9" fill="#7a7a7a" opacity="0.45" filter="url(#soft)"/></g>
<g clip-path="url(#mc3)"><ellipse cx="239.7" cy="67" rx="8" ry="9" fill="#7a7a7a" opacity="0.45" filter="url(#soft)"/></g>
<g clip-path="url(#mc4)"><ellipse cx="287.7" cy="67" rx="8" ry="9" fill="#7a7a7a" opacity="0.45" filter="url(#soft)"/></g>
<g clip-path="url(#mc5)"><ellipse cx="345.5" cy="74" rx="6" ry="6" fill="#7a7a7a" opacity="0.45" filter="url(#soft)"/></g>
<line x1="84.00" y1="66.00" x2="84.00" y2="72.50" stroke="#a0a0a0" stroke-width="0.9" />
<line x1="345.40" y1="66.00" x2="345.40" y2="72.00" stroke="#a0a0a0" stroke-width="0.9" />
<g filter="url(#heat)"><path d="M67.00,113.50 C67.90,112.17 70.17,112.17 72.00,112.00 C73.83,111.83 75.83,112.75 78.00,112.50 C80.17,112.25 82.83,110.58 85.00,110.50 C87.17,110.42 88.88,111.63 91.00,112.00 C93.12,112.37 96.38,111.37 97.70,112.70 C99.02,114.03 98.70,117.12 98.90,120.00 C99.10,122.88 98.95,126.55 98.90,130.00 C98.85,133.45 99.75,139.03 98.60,140.70 C97.45,142.37 94.10,140.28 92.00,140.00 C89.90,139.72 87.73,138.73 86.00,139.00 C84.27,139.27 82.77,142.43 81.60,141.60 C80.43,140.77 79.85,136.13 79.00,134.00 C78.15,131.87 78.00,129.67 76.50,128.80 C75.00,127.93 71.57,128.93 70.00,128.80 C68.43,128.67 67.67,129.47 67.10,128.00 C66.53,126.53 66.62,122.42 66.60,120.00 C66.58,117.58 66.10,114.83 67.00,113.50Z" fill="#fff" fill-opacity="0.16"/><ellipse cx="0" cy="0" rx="9.5" ry="6.8" fill="url(#hg)" opacity="0.85" transform="translate(74,118.8) rotate(0)"/><ellipse cx="0" cy="0" rx="4.5" ry="3.2" fill="url(#hg)" opacity="0.35" transform="translate(72.5,118.5) rotate(0)"/><ellipse cx="0" cy="0" rx="7" ry="10" fill="url(#hg)" opacity="0.8" transform="translate(86.8,121.5) rotate(0)"/><ellipse cx="0" cy="0" rx="4" ry="5" fill="url(#hg)" opacity="0.35" transform="translate(80,124) rotate(0)"/><ellipse cx="0" cy="0" rx="5" ry="14" fill="url(#hg)" opacity="0.95" transform="translate(96,128.5) rotate(-5)"/><ellipse cx="0" cy="0" rx="2.2" ry="7" fill="url(#hg)" opacity="0.5" transform="translate(96.3,126) rotate(0)"/><ellipse cx="0" cy="0" rx="4" ry="5" fill="url(#hg)" opacity="0.25" transform="translate(86,133) rotate(0)"/><path d="M110.20,109.70 C111.02,108.67 111.70,108.38 113.00,107.60 C114.30,106.82 116.05,105.68 118.00,105.00 C119.95,104.32 122.37,103.58 124.70,103.50 C127.03,103.42 129.25,104.03 132.00,104.50 C134.75,104.97 139.55,104.55 141.20,106.30 C142.85,108.05 141.78,112.02 141.90,115.00 C142.02,117.98 142.72,122.22 141.90,124.20 C141.08,126.18 139.87,126.33 137.00,126.90 C134.13,127.47 128.82,127.37 124.70,127.60 C120.58,127.83 115.07,128.65 112.30,128.30 C109.53,127.95 108.80,127.92 108.10,125.50 C107.40,123.08 107.75,116.43 108.10,113.80 C108.45,111.17 109.38,110.73 110.20,109.70Z" fill="#fff" fill-opacity="0.16"/><ellipse cx="0" cy="0" rx="8.5" ry="7.5" fill="url(#hg)" opacity="0.4" transform="translate(117,119) rotate(0)"/><ellipse cx="0" cy="0" rx="12" ry="12" fill="url(#hg)" opacity="0.85" transform="translate(131,117.5) rotate(0)"/><ellipse cx="0" cy="0" rx="5" ry="4.5" fill="url(#hg)" opacity="0.55" transform="translate(131.5,119.3) rotate(0)"/><ellipse cx="0" cy="0" rx="3.6" ry="3.6" fill="url(#hg)" opacity="0.42" transform="translate(119.4,93.1) rotate(0)"/><circle cx="112.8" cy="141.3" r="1.8" fill="#fff" fill-opacity="0.18"/><path d="M165.80,110.90 C166.97,109.97 168.93,108.40 171.00,107.50 C173.07,106.60 175.70,105.88 178.20,105.50 C180.70,105.12 183.43,105.15 186.00,105.20 C188.57,105.25 191.48,104.23 193.60,105.80 C195.72,107.37 197.85,111.92 198.70,114.60 C199.55,117.28 199.43,119.47 198.70,121.90 C197.97,124.33 196.08,127.43 194.30,129.20 C192.52,130.97 190.07,131.77 188.00,132.50 C185.93,133.23 184.23,133.55 181.90,133.60 C179.57,133.65 176.18,133.30 174.00,132.80 C171.82,132.30 170.58,132.67 168.80,130.60 C167.02,128.53 164.10,123.32 163.30,120.40 C162.50,117.48 163.58,114.68 164.00,113.10 C164.42,111.52 164.63,111.83 165.80,110.90Z" fill="#fff" fill-opacity="0.16"/><ellipse cx="0" cy="0" rx="15" ry="12" fill="url(#hg)" opacity="0.92" transform="translate(184,120) rotate(0)"/><ellipse cx="0" cy="0" rx="6" ry="5.5" fill="url(#hg)" opacity="0.55" transform="translate(184.1,120.4) rotate(0)"/><ellipse cx="0" cy="0" rx="7.5" ry="6.5" fill="url(#hg)" opacity="0.6" transform="translate(173,121.5) rotate(0)"/><path d="M235.00,90.80 C236.18,88.03 241.23,89.27 242.50,90.80 C243.77,92.33 241.85,98.30 242.60,100.00 C243.35,101.70 245.60,100.77 247.00,101.00 C248.40,101.23 249.48,100.45 251.00,101.40 C252.52,102.35 255.25,104.43 256.10,106.70 C256.95,108.97 256.10,112.32 256.10,115.00 C256.10,117.68 257.12,120.88 256.10,122.80 C255.08,124.72 252.45,125.70 250.00,126.50 C247.55,127.30 244.23,127.60 241.40,127.60 C238.57,127.60 235.12,127.30 233.00,126.50 C230.88,125.70 229.42,125.22 228.70,122.80 C227.98,120.38 228.48,114.35 228.70,112.00 C228.92,109.65 228.88,109.47 230.00,108.70 C231.12,107.93 234.57,110.38 235.40,107.40 C236.23,104.42 233.82,93.57 235.00,90.80Z" fill="#fff" fill-opacity="0.16"/><ellipse cx="0" cy="0" rx="4.2" ry="9.5" fill="url(#hg)" opacity="0.34" transform="translate(238.8,99) rotate(0)"/><ellipse cx="0" cy="0" rx="5.5" ry="5.5" fill="url(#hg)" opacity="0.36" transform="translate(249.4,107.4) rotate(0)"/><ellipse cx="0" cy="0" rx="13" ry="9.5" fill="url(#hg)" opacity="0.85" transform="translate(240,118.5) rotate(0)"/><ellipse cx="0" cy="0" rx="5" ry="4.5" fill="url(#hg)" opacity="0.5" transform="translate(238,118.8) rotate(0)"/><ellipse cx="0" cy="0" rx="4" ry="3" fill="url(#hg)" opacity="0.3" transform="translate(248,119.4) rotate(0)"/><ellipse cx="0" cy="0" rx="4.4" ry="4.4" fill="url(#hg)" opacity="0.36" transform="translate(230.7,91.4) rotate(0)"/><ellipse cx="0" cy="0" rx="4.1" ry="4.1" fill="url(#hg)" opacity="0.34" transform="translate(248.8,90) rotate(0)"/><ellipse cx="0" cy="0" rx="6.6" ry="7.6" fill="url(#hg)" opacity="0.9" transform="translate(224.3,140.1) rotate(0)"/><ellipse cx="0" cy="0" rx="2.0" ry="2.0" fill="url(#hg)" opacity="0.4" transform="translate(223.6,140.1) rotate(0)"/><ellipse cx="0" cy="0" rx="7.0" ry="8.3" fill="url(#hg)" opacity="0.95" transform="translate(259.6,140.8) rotate(0)"/><ellipse cx="0" cy="0" rx="2.6" ry="2.6" fill="url(#hg)" opacity="0.45" transform="translate(260.3,140.8) rotate(0)"/><path d="M276.00,108.00 C276.88,106.23 277.67,105.82 280.00,105.40 C282.33,104.98 286.43,105.28 290.00,105.50 C293.57,105.72 298.93,105.95 301.40,106.70 C303.87,107.45 304.23,108.12 304.80,110.00 C305.37,111.88 304.80,115.43 304.80,118.00 C304.80,120.57 305.93,123.65 304.80,125.40 C303.67,127.15 300.47,127.82 298.00,128.50 C295.53,129.18 292.83,129.75 290.00,129.50 C287.17,129.25 283.55,127.90 281.00,127.00 C278.45,126.10 275.75,125.93 274.70,124.10 C273.65,122.27 274.48,118.68 274.70,116.00 C274.92,113.32 275.12,109.77 276.00,108.00Z" fill="#fff" fill-opacity="0.16"/><ellipse cx="0" cy="0" rx="13.5" ry="10.5" fill="url(#hg)" opacity="0.85" transform="translate(292,119.5) rotate(0)"/><ellipse cx="0" cy="0" rx="5" ry="4.5" fill="url(#hg)" opacity="0.5" transform="translate(292.7,119.4) rotate(0)"/><ellipse cx="0" cy="0" rx="3" ry="2.5" fill="url(#hg)" opacity="0.3" transform="translate(290,123.4) rotate(0)"/><ellipse cx="0" cy="0" rx="4.2" ry="4.2" fill="url(#hg)" opacity="0.36" transform="translate(280,92) rotate(0)"/><ellipse cx="0" cy="0" rx="4.2" ry="4.2" fill="url(#hg)" opacity="0.36" transform="translate(296.7,90.7) rotate(0)"/><ellipse cx="0" cy="0" rx="6.5" ry="7.2" fill="url(#hg)" opacity="0.88" transform="translate(277.7,145) rotate(0)"/><ellipse cx="0" cy="0" rx="1.9" ry="1.9" fill="url(#hg)" opacity="0.4" transform="translate(275.8,145.5) rotate(0)"/><ellipse cx="0" cy="0" rx="6.2" ry="7.9" fill="url(#hg)" opacity="0.88" transform="translate(310.1,142.5) rotate(0)"/><ellipse cx="0" cy="0" rx="1.9" ry="1.9" fill="url(#hg)" opacity="0.4" transform="translate(311,141.8) rotate(0)"/><circle cx="293.5" cy="167.3" r="1.9" fill="#fff" fill-opacity="0.2"/><path d="M345.80,113.20 C347.13,112.95 348.80,112.70 350.00,113.50 C351.20,114.30 352.50,115.25 353.00,118.00 C353.50,120.75 353.00,126.33 353.00,130.00 C353.00,133.67 353.17,137.02 353.00,140.00 C352.83,142.98 352.83,146.07 352.00,147.90 C351.17,149.73 349.47,149.82 348.00,151.00 C346.53,152.18 344.62,155.17 343.20,155.00 C341.78,154.83 340.40,151.48 339.50,150.00 C338.60,148.52 338.22,147.93 337.80,146.10 C337.38,144.27 336.55,141.68 337.00,139.00 C337.45,136.32 339.92,133.17 340.50,130.00 C341.08,126.83 340.25,122.50 340.50,120.00 C340.75,117.50 341.12,116.13 342.00,115.00 C342.88,113.87 344.47,113.45 345.80,113.20Z" fill="#fff" fill-opacity="0.16"/><ellipse cx="0" cy="0" rx="4.5" ry="10.5" fill="url(#hg)" opacity="0.85" transform="translate(346.5,122.5) rotate(0)"/><ellipse cx="0" cy="0" rx="2.2" ry="5.5" fill="url(#hg)" opacity="0.45" transform="translate(346.7,122) rotate(0)"/><ellipse cx="0" cy="0" rx="4.5" ry="6" fill="url(#hg)" opacity="0.6" transform="translate(345,134) rotate(0)"/><ellipse cx="0" cy="0" rx="5" ry="5" fill="url(#hg)" opacity="0.62" transform="translate(342,144.5) rotate(0)"/><ellipse cx="0" cy="0" rx="4.6" ry="10.4" fill="url(#hg)" opacity="0.75" transform="translate(357.8,127) rotate(0)"/><ellipse cx="0" cy="0" rx="6.0" ry="6.4" fill="url(#hg)" opacity="0.65" transform="translate(358.6,146.6) rotate(0)"/><ellipse cx="0" cy="0" rx="3.8" ry="6.0" fill="url(#hg)" opacity="0.72" transform="translate(327.7,145.2) rotate(0)"/><ellipse cx="0" cy="0" rx="4" ry="4" fill="url(#hg)" opacity="0.5" transform="translate(342.6,163.9) rotate(0)"/><ellipse cx="0" cy="0" rx="4.1" ry="4.1" fill="url(#hg)" opacity="0.95" transform="translate(348.5,89.1) rotate(0)"/><ellipse cx="0" cy="0" rx="2.8" ry="2.8" fill="url(#hg)" opacity="0.3" transform="translate(352,94.5) rotate(0)"/><ellipse cx="0" cy="0" rx="3.2" ry="3.2" fill="url(#hg)" opacity="0.35" transform="translate(351.2,103.4) rotate(0)"/><circle cx="344" cy="105.2" r="1.4" fill="#fff" fill-opacity="0.18"/></g>
</g>
<rect x="375.10" y="75.50" width="2.80" height="103.30" fill="url(#cbar)" />
<rect x="379.50" y="83.00" width="2.20" height="0.90" fill="#777" />
<rect x="379.50" y="103.00" width="2.20" height="0.90" fill="#777" />
<rect x="379.50" y="131.00" width="2.20" height="0.90" fill="#777" />
<rect x="379.50" y="152.00" width="2.20" height="0.90" fill="#777" />
<rect x="379.50" y="170.00" width="2.20" height="0.90" fill="#777" />
<text x="372.60" y="72.40" font-size="8.6" textLength="17.60" lengthAdjust="spacingAndGlyphs" fill="#222" >Max</text>
<text x="373.00" y="193.70" font-size="10.0" textLength="15.40" lengthAdjust="spacingAndGlyphs" fill="#222" >Min</text>
<text x="375" y="182.5" font-size="3" fill="#999">Counts</text>
<text x="374.5" y="185.5" font-size="3" fill="#999">(photons/s)</text>
</svg></body></html>
